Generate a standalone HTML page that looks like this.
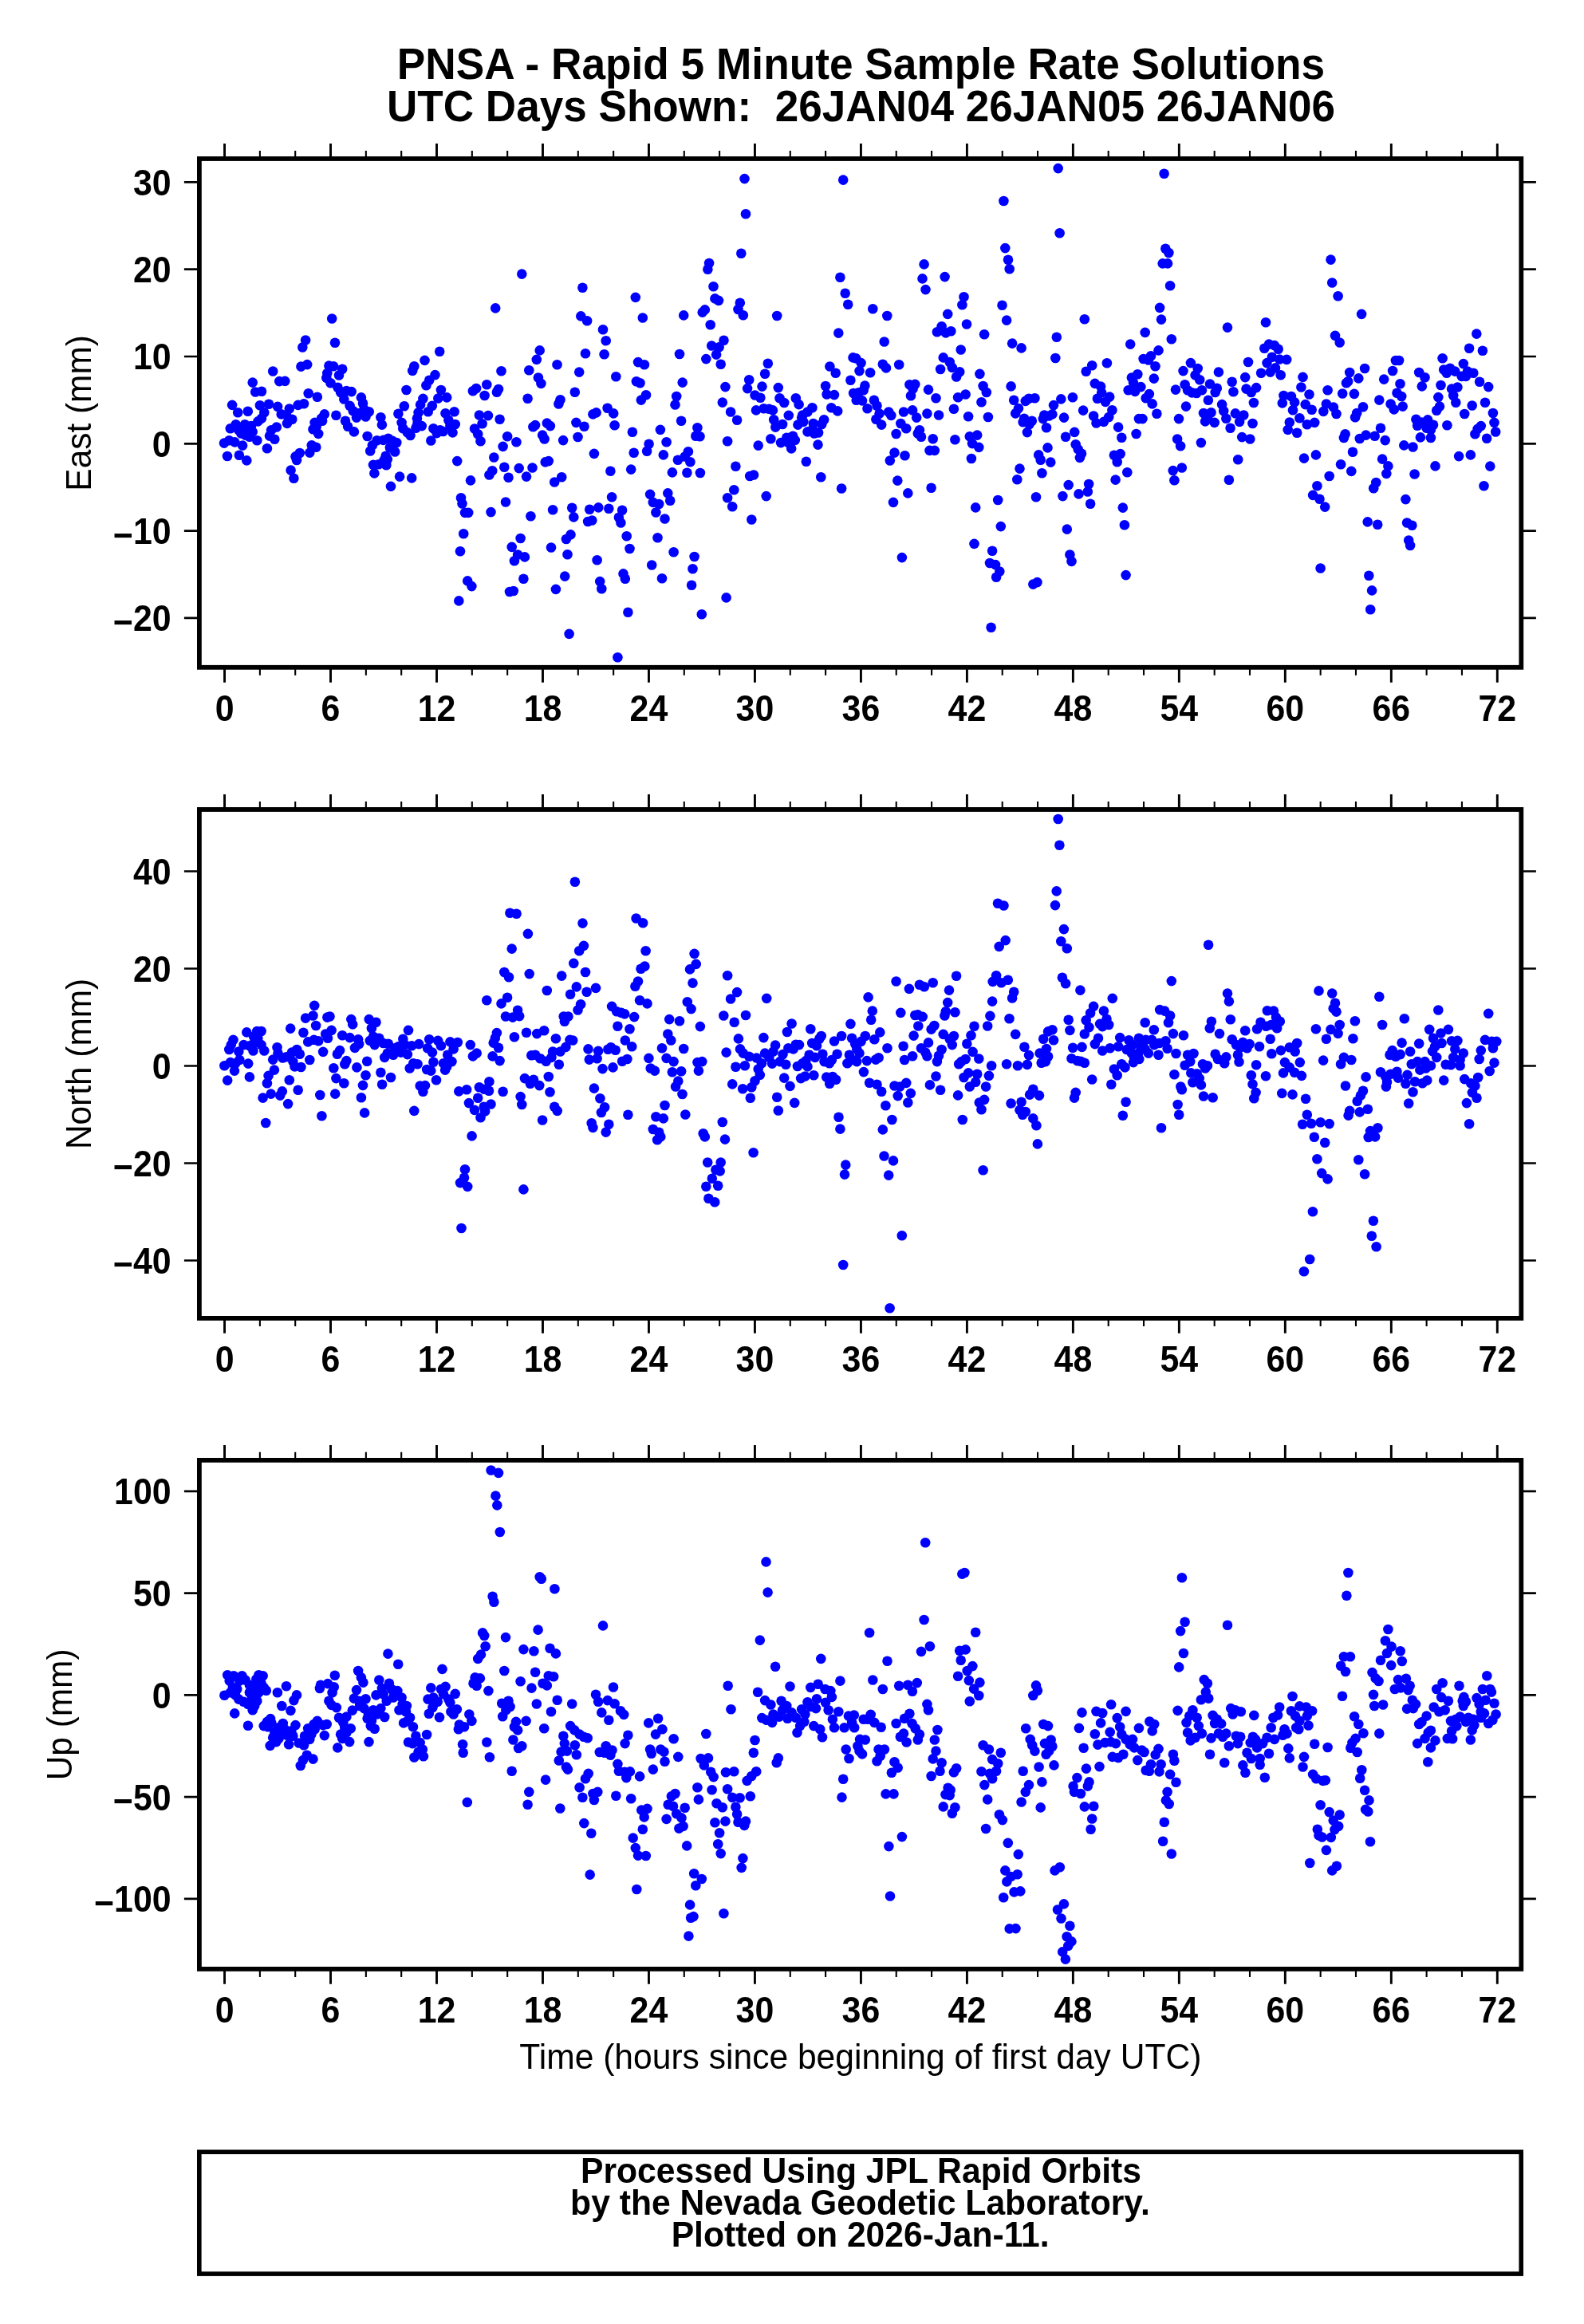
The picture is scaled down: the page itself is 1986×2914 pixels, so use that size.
<!DOCTYPE html>
<html lang="en"><head><meta charset="utf-8"><title>PNSA - Rapid 5 Minute Sample Rate Solutions</title>
<style>html,body{margin:0;padding:0;background:#fff}svg{display:block;will-change:transform}text{font-family:"Liberation Sans",Arial,Helvetica,sans-serif;fill:#000}.b{font-weight:700}.d{fill:#00f}</style></head><body>
<svg width="1986" height="2914" viewBox="0 0 1986 2914">
<rect width="1986" height="2914" fill="#fff"/>
<text class="b" transform="translate(1079.40 98.60) scale(1.0 1.045)" font-size="53.24" text-anchor="middle">PNSA - Rapid 5 Minute Sample Rate Solutions</text>
<text class="b" transform="translate(1079.50 152.40) scale(1.0 1.045)" font-size="53.1" text-anchor="middle" xml:space="preserve" style="white-space:pre">UTC Days Shown:  26JAN04 26JAN05 26JAN06</text>
<g id="panel1">
<g class="d">
<circle cx="281" cy="555.6" r="6.3"/><circle cx="287.3" cy="552.3" r="6.3"/><circle cx="294.4" cy="554.4" r="6.3"/><circle cx="304.1" cy="558.6" r="6.3"/><circle cx="285" cy="572" r="6.3"/><circle cx="299.9" cy="570.7" r="6.3"/><circle cx="309.3" cy="577.4" r="6.3"/><circle cx="288.8" cy="537.2" r="6.3"/><circle cx="295.7" cy="532.2" r="6.3"/><circle cx="302.4" cy="543.5" r="6.3"/><circle cx="307" cy="532.2" r="6.3"/><circle cx="310.8" cy="538.5" r="6.3"/><circle cx="316.7" cy="541.4" r="6.3"/><circle cx="312.9" cy="547.7" r="6.3"/><circle cx="322.3" cy="552.3" r="6.3"/><circle cx="291.1" cy="507.9" r="6.3"/><circle cx="298.2" cy="517.3" r="6.3"/><circle cx="310.8" cy="515.8" r="6.3"/><circle cx="316.7" cy="479.6" r="6.3"/><circle cx="320.2" cy="491.5" r="6.3"/><circle cx="328" cy="490.7" r="6.3"/><circle cx="325.9" cy="508.3" r="6.3"/><circle cx="331.3" cy="517.3" r="6.3"/><circle cx="328" cy="524.6" r="6.3"/><circle cx="323.4" cy="528.4" r="6.3"/><circle cx="337" cy="506.8" r="6.3"/><circle cx="342.2" cy="465.5" r="6.3"/><circle cx="350.2" cy="478.1" r="6.3"/><circle cx="357.3" cy="477.9" r="6.3"/><circle cx="348.1" cy="509.9" r="6.3"/><circle cx="352.7" cy="519.4" r="6.3"/><circle cx="362.8" cy="512.5" r="6.3"/><circle cx="359" cy="520.4" r="6.3"/><circle cx="366.3" cy="525.7" r="6.3"/><circle cx="360" cy="530.9" r="6.3"/><circle cx="346.8" cy="535.5" r="6.3"/><circle cx="340.1" cy="539.3" r="6.3"/><circle cx="338" cy="546.6" r="6.3"/><circle cx="344.3" cy="550.8" r="6.3"/><circle cx="334.9" cy="562.3" r="6.3"/><circle cx="373.7" cy="507.9" r="6.3"/><circle cx="381" cy="506.2" r="6.3"/><circle cx="377.4" cy="459.6" r="6.3"/><circle cx="385.2" cy="457.1" r="6.3"/><circle cx="379.3" cy="435.5" r="6.3"/><circle cx="383.1" cy="426.5" r="6.3"/><circle cx="386.7" cy="493.2" r="6.3"/><circle cx="397.8" cy="497.8" r="6.3"/><circle cx="416.2" cy="399.5" r="6.3"/><circle cx="420" cy="429.7" r="6.3"/><circle cx="412.4" cy="458.6" r="6.3"/><circle cx="418.1" cy="459.2" r="6.3"/><circle cx="429.2" cy="462.8" r="6.3"/><circle cx="425" cy="470.5" r="6.3"/><circle cx="410.3" cy="468" r="6.3"/><circle cx="409.3" cy="473.9" r="6.3"/><circle cx="414.5" cy="480.2" r="6.3"/><circle cx="423.5" cy="485.8" r="6.3"/><circle cx="427.1" cy="492.1" r="6.3"/><circle cx="434.4" cy="490" r="6.3"/><circle cx="440.7" cy="491.1" r="6.3"/><circle cx="431.3" cy="500.5" r="6.3"/><circle cx="438.6" cy="508.9" r="6.3"/><circle cx="442.8" cy="515.2" r="6.3"/><circle cx="447" cy="523.6" r="6.3"/><circle cx="452.9" cy="498.4" r="6.3"/><circle cx="455" cy="505.8" r="6.3"/><circle cx="456.5" cy="513.1" r="6.3"/><circle cx="462.7" cy="516.2" r="6.3"/><circle cx="458.5" cy="522.5" r="6.3"/><circle cx="406.8" cy="519.4" r="6.3"/><circle cx="403" cy="524.6" r="6.3"/><circle cx="394.6" cy="529.9" r="6.3"/><circle cx="392.5" cy="538.2" r="6.3"/><circle cx="399.2" cy="543.9" r="6.3"/><circle cx="390.8" cy="558.2" r="6.3"/><circle cx="396.3" cy="560.7" r="6.3"/><circle cx="388.3" cy="567.6" r="6.3"/><circle cx="375.8" cy="568" r="6.3"/><circle cx="370.5" cy="572.4" r="6.3"/><circle cx="372" cy="577" r="6.3"/><circle cx="364.6" cy="589.6" r="6.3"/><circle cx="368.4" cy="599.7" r="6.3"/><circle cx="421.4" cy="520.8" r="6.3"/><circle cx="433" cy="527.8" r="6.3"/><circle cx="436.1" cy="534.7" r="6.3"/><circle cx="443.9" cy="541.4" r="6.3"/><circle cx="460.6" cy="547" r="6.3"/><circle cx="477.4" cy="523.2" r="6.3"/><circle cx="478.9" cy="532.6" r="6.3"/><circle cx="466.9" cy="558.2" r="6.3"/><circle cx="464.2" cy="565.5" r="6.3"/><circle cx="472.6" cy="552.3" r="6.3"/><circle cx="480.6" cy="551.9" r="6.3"/><circle cx="492.1" cy="552.9" r="6.3"/><circle cx="497.3" cy="555" r="6.3"/><circle cx="488.9" cy="561.3" r="6.3"/><circle cx="495.2" cy="566.5" r="6.3"/><circle cx="483.7" cy="571.8" r="6.3"/><circle cx="485.8" cy="576" r="6.3"/><circle cx="468" cy="582.9" r="6.3"/><circle cx="474.7" cy="582.3" r="6.3"/><circle cx="484.3" cy="583.3" r="6.3"/><circle cx="469.4" cy="593.4" r="6.3"/><circle cx="490" cy="609.9" r="6.3"/><circle cx="501.1" cy="597.6" r="6.3"/><circle cx="516.2" cy="599.4" r="6.3"/><circle cx="499.4" cy="518.8" r="6.3"/><circle cx="506.8" cy="509.3" r="6.3"/><circle cx="503.6" cy="529.9" r="6.3"/><circle cx="505.3" cy="537.2" r="6.3"/><circle cx="510.9" cy="542.4" r="6.3"/><circle cx="514.5" cy="546" r="6.3"/><circle cx="509.5" cy="489" r="6.3"/><circle cx="517.2" cy="464.9" r="6.3"/><circle cx="519.3" cy="459.2" r="6.3"/><circle cx="532.5" cy="451.9" r="6.3"/><circle cx="551.2" cy="440.8" r="6.3"/><circle cx="545.5" cy="470.1" r="6.3"/><circle cx="538.2" cy="476.8" r="6.3"/><circle cx="534.4" cy="483.3" r="6.3"/><circle cx="530.4" cy="499.9" r="6.3"/><circle cx="527.1" cy="507.4" r="6.3"/><circle cx="524.6" cy="517.3" r="6.3"/><circle cx="522.9" cy="524.6" r="6.3"/><circle cx="528.8" cy="534.1" r="6.3"/><circle cx="521.4" cy="536.8" r="6.3"/><circle cx="541.8" cy="508.9" r="6.3"/><circle cx="536.7" cy="516.2" r="6.3"/><circle cx="552.9" cy="489" r="6.3"/><circle cx="549.3" cy="499.5" r="6.3"/><circle cx="560.2" cy="498.4" r="6.3"/><circle cx="558.5" cy="518.3" r="6.3"/><circle cx="569.6" cy="516.2" r="6.3"/><circle cx="562.3" cy="526.7" r="6.3"/><circle cx="570.7" cy="532" r="6.3"/><circle cx="567.5" cy="542.4" r="6.3"/><circle cx="543.4" cy="537.2" r="6.3"/><circle cx="547.6" cy="543.1" r="6.3"/><circle cx="555.6" cy="541" r="6.3"/><circle cx="540.3" cy="552.5" r="6.3"/><circle cx="573.2" cy="578.1" r="6.3"/><circle cx="578" cy="624.2" r="6.3"/><circle cx="579.5" cy="631.5" r="6.3"/><circle cx="581.2" cy="669.2" r="6.3"/><circle cx="577" cy="691.2" r="6.3"/><circle cx="299.3" cy="539.3" r="6.3"/><circle cx="315" cy="534.1" r="6.3"/><circle cx="307.6" cy="545.6" r="6.3"/><circle cx="486.8" cy="549.8" r="6.3"/><circle cx="481.6" cy="577" r="6.3"/><circle cx="449.1" cy="518.3" r="6.3"/><circle cx="404.1" cy="527.8" r="6.3"/><circle cx="396.7" cy="535.1" r="6.3"/><circle cx="523.5" cy="530.9" r="6.3"/><circle cx="564.4" cy="534.1" r="6.3"/><circle cx="551.8" cy="539.3" r="6.3"/><circle cx="654.3" cy="343.6" r="6.3"/><circle cx="621.2" cy="386.4" r="6.3"/><circle cx="730.4" cy="360.8" r="6.3"/><circle cx="796.8" cy="372.9" r="6.3"/><circle cx="889.1" cy="330" r="6.3"/><circle cx="887.4" cy="337.7" r="6.3"/><circle cx="894.5" cy="359.3" r="6.3"/><circle cx="896.4" cy="374.4" r="6.3"/><circle cx="901" cy="376.9" r="6.3"/><circle cx="883.8" cy="388.4" r="6.3"/><circle cx="880.7" cy="391.6" r="6.3"/><circle cx="857.2" cy="395.4" r="6.3"/><circle cx="805.8" cy="398.5" r="6.3"/><circle cx="728.3" cy="396.4" r="6.3"/><circle cx="736.1" cy="402.3" r="6.3"/><circle cx="756" cy="413.2" r="6.3"/><circle cx="759.7" cy="427.2" r="6.3"/><circle cx="890.7" cy="407.3" r="6.3"/><circle cx="907.5" cy="426.8" r="6.3"/><circle cx="892.2" cy="433.5" r="6.3"/><circle cx="901.6" cy="435.2" r="6.3"/><circle cx="898.1" cy="444.6" r="6.3"/><circle cx="885.3" cy="450.1" r="6.3"/><circle cx="903.7" cy="456.8" r="6.3"/><circle cx="852" cy="444" r="6.3"/><circle cx="757.6" cy="444.2" r="6.3"/><circle cx="734" cy="443.2" r="6.3"/><circle cx="676.7" cy="439.4" r="6.3"/><circle cx="672.8" cy="450.9" r="6.3"/><circle cx="698.5" cy="457.2" r="6.3"/><circle cx="663.3" cy="464.3" r="6.3"/><circle cx="628.5" cy="465.2" r="6.3"/><circle cx="726.2" cy="466.6" r="6.3"/><circle cx="674.9" cy="473.5" r="6.3"/><circle cx="678.4" cy="480.9" r="6.3"/><circle cx="772.3" cy="472.3" r="6.3"/><circle cx="800" cy="454.1" r="6.3"/><circle cx="807.9" cy="457.2" r="6.3"/><circle cx="797.9" cy="478.2" r="6.3"/><circle cx="802.5" cy="480.3" r="6.3"/><circle cx="855.7" cy="479.6" r="6.3"/><circle cx="909.4" cy="485.1" r="6.3"/><circle cx="810" cy="495.3" r="6.3"/><circle cx="803.8" cy="501.6" r="6.3"/><circle cx="848.2" cy="497" r="6.3"/><circle cx="846.5" cy="507.5" r="6.3"/><circle cx="905.8" cy="504.6" r="6.3"/><circle cx="720.8" cy="491.8" r="6.3"/><circle cx="702.5" cy="501.2" r="6.3"/><circle cx="700.4" cy="506.5" r="6.3"/><circle cx="661.6" cy="499.7" r="6.3"/><circle cx="610.3" cy="482.3" r="6.3"/><circle cx="597.1" cy="487" r="6.3"/><circle cx="592.9" cy="490.3" r="6.3"/><circle cx="607.6" cy="496" r="6.3"/><circle cx="625" cy="488" r="6.3"/><circle cx="622.9" cy="491.8" r="6.3"/><circle cx="600.9" cy="520.5" r="6.3"/><circle cx="612" cy="521.1" r="6.3"/><circle cx="626.6" cy="525.7" r="6.3"/><circle cx="604.6" cy="531.2" r="6.3"/><circle cx="595" cy="537.5" r="6.3"/><circle cx="599.2" cy="544.2" r="6.3"/><circle cx="602.5" cy="553.2" r="6.3"/><circle cx="636.1" cy="547.3" r="6.3"/><circle cx="647.4" cy="554.2" r="6.3"/><circle cx="630.6" cy="559.9" r="6.3"/><circle cx="619.3" cy="573.5" r="6.3"/><circle cx="632.3" cy="585.7" r="6.3"/><circle cx="617.2" cy="590.3" r="6.3"/><circle cx="613.4" cy="595.5" r="6.3"/><circle cx="637.5" cy="598.7" r="6.3"/><circle cx="650.7" cy="587.1" r="6.3"/><circle cx="660" cy="597.6" r="6.3"/><circle cx="667.5" cy="586.5" r="6.3"/><circle cx="590" cy="602.4" r="6.3"/><circle cx="671.1" cy="533.1" r="6.3"/><circle cx="668.4" cy="535.2" r="6.3"/><circle cx="685.8" cy="530.6" r="6.3"/><circle cx="689.9" cy="534.1" r="6.3"/><circle cx="680.1" cy="545.6" r="6.3"/><circle cx="682.6" cy="550.5" r="6.3"/><circle cx="706.1" cy="552.1" r="6.3"/><circle cx="724.5" cy="548" r="6.3"/><circle cx="722.4" cy="529.9" r="6.3"/><circle cx="732.5" cy="534.7" r="6.3"/><circle cx="743.4" cy="519.4" r="6.3"/><circle cx="747.6" cy="517.4" r="6.3"/><circle cx="761.6" cy="511.7" r="6.3"/><circle cx="769.2" cy="518.4" r="6.3"/><circle cx="770.6" cy="533.3" r="6.3"/><circle cx="792.9" cy="541.7" r="6.3"/><circle cx="827.9" cy="538.9" r="6.3"/><circle cx="854.1" cy="527.8" r="6.3"/><circle cx="874.4" cy="536.2" r="6.3"/><circle cx="872.3" cy="546.7" r="6.3"/><circle cx="877.5" cy="547.3" r="6.3"/><circle cx="912.1" cy="553.2" r="6.3"/><circle cx="835.6" cy="554.2" r="6.3"/><circle cx="813.6" cy="556.8" r="6.3"/><circle cx="811.1" cy="565.8" r="6.3"/><circle cx="794.7" cy="567.7" r="6.3"/><circle cx="831.8" cy="570.4" r="6.3"/><circle cx="862.9" cy="566.2" r="6.3"/><circle cx="858.7" cy="572.5" r="6.3"/><circle cx="849.9" cy="576.7" r="6.3"/><circle cx="865.4" cy="579.2" r="6.3"/><circle cx="842.9" cy="592.4" r="6.3"/><circle cx="861.4" cy="592.8" r="6.3"/><circle cx="877.9" cy="593" r="6.3"/><circle cx="791.2" cy="588.6" r="6.3"/><circle cx="765.4" cy="590.7" r="6.3"/><circle cx="744.9" cy="568.9" r="6.3"/><circle cx="687.8" cy="578.1" r="6.3"/><circle cx="683.7" cy="579.4" r="6.3"/><circle cx="704.2" cy="598.3" r="6.3"/><circle cx="695.2" cy="604.5" r="6.3"/><circle cx="583" cy="642.9" r="6.3"/><circle cx="587.2" cy="642.9" r="6.3"/><circle cx="586.2" cy="728.4" r="6.3"/><circle cx="591.4" cy="735.1" r="6.3"/><circle cx="615.5" cy="642.1" r="6.3"/><circle cx="634" cy="629.5" r="6.3"/><circle cx="665.4" cy="647.3" r="6.3"/><circle cx="693.1" cy="639.3" r="6.3"/><circle cx="717.2" cy="636.8" r="6.3"/><circle cx="719.3" cy="648.4" r="6.3"/><circle cx="739.2" cy="638.7" r="6.3"/><circle cx="750.3" cy="636.4" r="6.3"/><circle cx="763.3" cy="637.7" r="6.3"/><circle cx="767.1" cy="623.2" r="6.3"/><circle cx="737.1" cy="654" r="6.3"/><circle cx="742.3" cy="652.5" r="6.3"/><circle cx="780.1" cy="639.8" r="6.3"/><circle cx="775.9" cy="648.8" r="6.3"/><circle cx="778.4" cy="655.5" r="6.3"/><circle cx="815.1" cy="619.9" r="6.3"/><circle cx="818.8" cy="629.9" r="6.3"/><circle cx="826.2" cy="632" r="6.3"/><circle cx="822.4" cy="642.5" r="6.3"/><circle cx="837.3" cy="618.4" r="6.3"/><circle cx="840.2" cy="627.8" r="6.3"/><circle cx="833.5" cy="650.5" r="6.3"/><circle cx="912.1" cy="624.3" r="6.3"/><circle cx="652.6" cy="675" r="6.3"/><circle cx="641.7" cy="685.9" r="6.3"/><circle cx="649.1" cy="695.5" r="6.3"/><circle cx="657.9" cy="698.4" r="6.3"/><circle cx="644.9" cy="703.3" r="6.3"/><circle cx="656.4" cy="725.7" r="6.3"/><circle cx="639" cy="742" r="6.3"/><circle cx="643.8" cy="741" r="6.3"/><circle cx="691" cy="686.5" r="6.3"/><circle cx="709.9" cy="676" r="6.3"/><circle cx="715.5" cy="670.4" r="6.3"/><circle cx="711.5" cy="695.3" r="6.3"/><circle cx="708.2" cy="722.6" r="6.3"/><circle cx="696.9" cy="738.9" r="6.3"/><circle cx="748.6" cy="702.2" r="6.3"/><circle cx="752.2" cy="729.1" r="6.3"/><circle cx="754.3" cy="738.3" r="6.3"/><circle cx="785.7" cy="672.2" r="6.3"/><circle cx="789.5" cy="688" r="6.3"/><circle cx="781.5" cy="719.4" r="6.3"/><circle cx="783.8" cy="725.7" r="6.3"/><circle cx="824.5" cy="674.3" r="6.3"/><circle cx="817.2" cy="708.5" r="6.3"/><circle cx="830" cy="725.3" r="6.3"/><circle cx="844.6" cy="692.2" r="6.3"/><circle cx="870.6" cy="698" r="6.3"/><circle cx="868.5" cy="713.3" r="6.3"/><circle cx="867.1" cy="733.7" r="6.3"/><circle cx="910.6" cy="749.4" r="6.3"/><circle cx="879.8" cy="770.3" r="6.3"/><circle cx="787.4" cy="767.8" r="6.3"/><circle cx="713.6" cy="794.9" r="6.3"/><circle cx="774.4" cy="824.2" r="6.3"/><circle cx="933.5" cy="224.1" r="6.3"/><circle cx="935" cy="268.3" r="6.3"/><circle cx="929.3" cy="317.8" r="6.3"/><circle cx="1057.2" cy="225.6" r="6.3"/><circle cx="927.8" cy="379.8" r="6.3"/><circle cx="925.5" cy="388" r="6.3"/><circle cx="931.8" cy="395.3" r="6.3"/><circle cx="974.2" cy="396" r="6.3"/><circle cx="1053.4" cy="347.8" r="6.3"/><circle cx="1059.7" cy="367.7" r="6.3"/><circle cx="1063.2" cy="381.7" r="6.3"/><circle cx="1051.3" cy="417.6" r="6.3"/><circle cx="1094.3" cy="387.2" r="6.3"/><circle cx="1112.3" cy="396" r="6.3"/><circle cx="1108.7" cy="428.5" r="6.3"/><circle cx="1158.6" cy="331.4" r="6.3"/><circle cx="1156.5" cy="349.4" r="6.3"/><circle cx="1160.5" cy="363.1" r="6.3"/><circle cx="1184.6" cy="347.1" r="6.3"/><circle cx="1208.5" cy="372.3" r="6.3"/><circle cx="1206.4" cy="382.3" r="6.3"/><circle cx="1188.2" cy="393.9" r="6.3"/><circle cx="1212" cy="406.5" r="6.3"/><circle cx="1180.6" cy="409.2" r="6.3"/><circle cx="1174.9" cy="416.3" r="6.3"/><circle cx="1185.8" cy="417.4" r="6.3"/><circle cx="1192.3" cy="415.3" r="6.3"/><circle cx="1234.1" cy="419.2" r="6.3"/><circle cx="1204.7" cy="438.5" r="6.3"/><circle cx="1182.7" cy="448.4" r="6.3"/><circle cx="1190.7" cy="454" r="6.3"/><circle cx="1193.8" cy="460.9" r="6.3"/><circle cx="1179.1" cy="463" r="6.3"/><circle cx="1203.2" cy="466.2" r="6.3"/><circle cx="1199.1" cy="472.5" r="6.3"/><circle cx="1228.4" cy="468.9" r="6.3"/><circle cx="1232.6" cy="484" r="6.3"/><circle cx="1236.8" cy="492" r="6.3"/><circle cx="1230.5" cy="504.3" r="6.3"/><circle cx="1210.6" cy="494.5" r="6.3"/><circle cx="1201.1" cy="498.3" r="6.3"/><circle cx="1195.9" cy="512.7" r="6.3"/><circle cx="1173.5" cy="499.3" r="6.3"/><circle cx="1164" cy="488.6" r="6.3"/><circle cx="1140.4" cy="482.3" r="6.3"/><circle cx="1147.3" cy="481.9" r="6.3"/><circle cx="1144.6" cy="487.6" r="6.3"/><circle cx="1142" cy="496.2" r="6.3"/><circle cx="1127.2" cy="457.2" r="6.3"/><circle cx="1106.8" cy="456.8" r="6.3"/><circle cx="1111" cy="461.4" r="6.3"/><circle cx="1069.5" cy="448.4" r="6.3"/><circle cx="1073.3" cy="449.4" r="6.3"/><circle cx="1079.6" cy="455.1" r="6.3"/><circle cx="1077.5" cy="465.1" r="6.3"/><circle cx="1091.1" cy="467.2" r="6.3"/><circle cx="1066.4" cy="476.7" r="6.3"/><circle cx="1084.4" cy="483.6" r="6.3"/><circle cx="1082.7" cy="489.2" r="6.3"/><circle cx="1070.1" cy="493" r="6.3"/><circle cx="1076.4" cy="492.4" r="6.3"/><circle cx="1073.7" cy="501.8" r="6.3"/><circle cx="1081" cy="502.4" r="6.3"/><circle cx="1095.9" cy="501.8" r="6.3"/><circle cx="1099.5" cy="508.7" r="6.3"/><circle cx="1087.5" cy="512.3" r="6.3"/><circle cx="1040.4" cy="459.5" r="6.3"/><circle cx="1047.7" cy="467.7" r="6.3"/><circle cx="1035.1" cy="484" r="6.3"/><circle cx="1036.6" cy="494.5" r="6.3"/><circle cx="1046" cy="495.1" r="6.3"/><circle cx="1042.3" cy="511.2" r="6.3"/><circle cx="1050.2" cy="515.4" r="6.3"/><circle cx="962.8" cy="455.7" r="6.3"/><circle cx="959.1" cy="468.7" r="6.3"/><circle cx="939.2" cy="476.2" r="6.3"/><circle cx="937.1" cy="487.1" r="6.3"/><circle cx="955.5" cy="484.6" r="6.3"/><circle cx="946.5" cy="495.5" r="6.3"/><circle cx="953.4" cy="498.7" r="6.3"/><circle cx="975.8" cy="486.1" r="6.3"/><circle cx="977.5" cy="499.3" r="6.3"/><circle cx="983.2" cy="505" r="6.3"/><circle cx="997.8" cy="499.3" r="6.3"/><circle cx="1001.6" cy="507.1" r="6.3"/><circle cx="1018.4" cy="511.2" r="6.3"/><circle cx="1012.5" cy="516.5" r="6.3"/><circle cx="948" cy="514.4" r="6.3"/><circle cx="957.6" cy="512.3" r="6.3"/><circle cx="964.3" cy="512.7" r="6.3"/><circle cx="968.9" cy="514.4" r="6.3"/><circle cx="916.1" cy="516.5" r="6.3"/><circle cx="1114.2" cy="516.5" r="6.3"/><circle cx="1102.6" cy="518.6" r="6.3"/><circle cx="1133" cy="516.5" r="6.3"/><circle cx="1144.1" cy="514.4" r="6.3"/><circle cx="1162.4" cy="518.6" r="6.3"/><circle cx="924.1" cy="526.8" r="6.3"/><circle cx="988.8" cy="520.9" r="6.3"/><circle cx="1006.2" cy="520.5" r="6.3"/><circle cx="1177" cy="520.5" r="6.3"/><circle cx="1214.1" cy="522.2" r="6.3"/><circle cx="1238.9" cy="523" r="6.3"/><circle cx="1149.2" cy="523.6" r="6.3"/><circle cx="1117.3" cy="520.9" r="6.3"/><circle cx="1098.4" cy="525.7" r="6.3"/><circle cx="1105.2" cy="532.6" r="6.3"/><circle cx="1129.3" cy="531" r="6.3"/><circle cx="1136.2" cy="537.2" r="6.3"/><circle cx="1123.6" cy="544" r="6.3"/><circle cx="1152.9" cy="539.3" r="6.3"/><circle cx="1150.8" cy="543.5" r="6.3"/><circle cx="1155" cy="547.7" r="6.3"/><circle cx="1169.7" cy="550.2" r="6.3"/><circle cx="1165.5" cy="564.9" r="6.3"/><circle cx="1171.8" cy="564.9" r="6.3"/><circle cx="1197.4" cy="551.3" r="6.3"/><circle cx="1215.8" cy="547.3" r="6.3"/><circle cx="1225.2" cy="545.6" r="6.3"/><circle cx="1219" cy="556.1" r="6.3"/><circle cx="1227.3" cy="560.9" r="6.3"/><circle cx="1217.9" cy="575" r="6.3"/><circle cx="1121.5" cy="567.6" r="6.3"/><circle cx="1134.5" cy="571.2" r="6.3"/><circle cx="1115.8" cy="577.5" r="6.3"/><circle cx="1125.3" cy="602.6" r="6.3"/><circle cx="1138.3" cy="618.4" r="6.3"/><circle cx="1120" cy="629.9" r="6.3"/><circle cx="1167.6" cy="611.7" r="6.3"/><circle cx="1223.2" cy="636.4" r="6.3"/><circle cx="1221.5" cy="681.9" r="6.3"/><circle cx="1244.1" cy="690.7" r="6.3"/><circle cx="1241" cy="706" r="6.3"/><circle cx="1242.6" cy="786.7" r="6.3"/><circle cx="1130.9" cy="699.1" r="6.3"/><circle cx="918.2" cy="635.3" r="6.3"/><circle cx="920.3" cy="614.2" r="6.3"/><circle cx="922.4" cy="584.8" r="6.3"/><circle cx="970.2" cy="526.3" r="6.3"/><circle cx="972.3" cy="535.6" r="6.3"/><circle cx="981.1" cy="532" r="6.3"/><circle cx="1000.4" cy="532.6" r="6.3"/><circle cx="1007.3" cy="528.9" r="6.3"/><circle cx="1005.2" cy="523.6" r="6.3"/><circle cx="1019.8" cy="531" r="6.3"/><circle cx="1033.1" cy="526.3" r="6.3"/><circle cx="1030.3" cy="532" r="6.3"/><circle cx="1012.5" cy="541.4" r="6.3"/><circle cx="1018.8" cy="538.3" r="6.3"/><circle cx="1026.1" cy="542.5" r="6.3"/><circle cx="1020.9" cy="543.5" r="6.3"/><circle cx="966.4" cy="550.2" r="6.3"/><circle cx="950.7" cy="558.6" r="6.3"/><circle cx="979" cy="555.1" r="6.3"/><circle cx="986.3" cy="548.8" r="6.3"/><circle cx="994.1" cy="546.7" r="6.3"/><circle cx="996.8" cy="551.9" r="6.3"/><circle cx="988.4" cy="555.1" r="6.3"/><circle cx="992.2" cy="562.4" r="6.3"/><circle cx="1025.5" cy="557.6" r="6.3"/><circle cx="1010.8" cy="578.7" r="6.3"/><circle cx="1029.3" cy="598.2" r="6.3"/><circle cx="1055.1" cy="612.5" r="6.3"/><circle cx="940.2" cy="597" r="6.3"/><circle cx="945" cy="595.5" r="6.3"/><circle cx="960.7" cy="622.1" r="6.3"/><circle cx="942.3" cy="651.5" r="6.3"/><circle cx="1326.7" cy="211.1" r="6.3"/><circle cx="1459.6" cy="217.8" r="6.3"/><circle cx="1258.4" cy="252" r="6.3"/><circle cx="1328.6" cy="292.2" r="6.3"/><circle cx="1260.3" cy="311.1" r="6.3"/><circle cx="1264" cy="325.8" r="6.3"/><circle cx="1265.7" cy="337.3" r="6.3"/><circle cx="1461.3" cy="311.7" r="6.3"/><circle cx="1465.4" cy="317" r="6.3"/><circle cx="1457.7" cy="330.4" r="6.3"/><circle cx="1464" cy="330.4" r="6.3"/><circle cx="1467.1" cy="358.2" r="6.3"/><circle cx="1256.5" cy="382.8" r="6.3"/><circle cx="1262.1" cy="401.6" r="6.3"/><circle cx="1359.8" cy="400.2" r="6.3"/><circle cx="1454.1" cy="385.9" r="6.3"/><circle cx="1456" cy="400.6" r="6.3"/><circle cx="1539" cy="410.6" r="6.3"/><circle cx="1435.7" cy="416.9" r="6.3"/><circle cx="1468.8" cy="425.3" r="6.3"/><circle cx="1417.2" cy="431.6" r="6.3"/><circle cx="1324.8" cy="422.8" r="6.3"/><circle cx="1269.1" cy="430.6" r="6.3"/><circle cx="1280.6" cy="436.4" r="6.3"/><circle cx="1323.3" cy="449" r="6.3"/><circle cx="1452.5" cy="439.4" r="6.3"/><circle cx="1443" cy="446.3" r="6.3"/><circle cx="1433.6" cy="450" r="6.3"/><circle cx="1439.9" cy="451.5" r="6.3"/><circle cx="1448.5" cy="459.3" r="6.3"/><circle cx="1387.9" cy="455.3" r="6.3"/><circle cx="1369.2" cy="458.2" r="6.3"/><circle cx="1361.7" cy="465.8" r="6.3"/><circle cx="1492.9" cy="455.1" r="6.3"/><circle cx="1501.7" cy="462" r="6.3"/><circle cx="1483.5" cy="465.1" r="6.3"/><circle cx="1498.6" cy="470.4" r="6.3"/><circle cx="1504.2" cy="476.2" r="6.3"/><circle cx="1527.9" cy="466.6" r="6.3"/><circle cx="1565" cy="454" r="6.3"/><circle cx="1561.2" cy="473.1" r="6.3"/><circle cx="1426.3" cy="469.3" r="6.3"/><circle cx="1418.9" cy="473.5" r="6.3"/><circle cx="1421" cy="479.8" r="6.3"/><circle cx="1446.8" cy="474.6" r="6.3"/><circle cx="1430.4" cy="485.1" r="6.3"/><circle cx="1414.7" cy="489.2" r="6.3"/><circle cx="1423.1" cy="490.9" r="6.3"/><circle cx="1440.9" cy="494.1" r="6.3"/><circle cx="1436.7" cy="499.3" r="6.3"/><circle cx="1444.7" cy="506.4" r="6.3"/><circle cx="1372.8" cy="480.9" r="6.3"/><circle cx="1380.1" cy="484.6" r="6.3"/><circle cx="1381.2" cy="492.4" r="6.3"/><circle cx="1375.9" cy="499.7" r="6.3"/><circle cx="1391.2" cy="497.6" r="6.3"/><circle cx="1386" cy="503.9" r="6.3"/><circle cx="1267.6" cy="484.4" r="6.3"/><circle cx="1271.2" cy="501.8" r="6.3"/><circle cx="1290" cy="499.7" r="6.3"/><circle cx="1285.8" cy="502.9" r="6.3"/><circle cx="1297.4" cy="499.3" r="6.3"/><circle cx="1321" cy="508.1" r="6.3"/><circle cx="1330.3" cy="500.4" r="6.3"/><circle cx="1344.9" cy="498.3" r="6.3"/><circle cx="1474" cy="488.6" r="6.3"/><circle cx="1485.6" cy="482.3" r="6.3"/><circle cx="1489.1" cy="489.2" r="6.3"/><circle cx="1494.4" cy="492.4" r="6.3"/><circle cx="1500.2" cy="493" r="6.3"/><circle cx="1506.9" cy="489.2" r="6.3"/><circle cx="1517" cy="481.5" r="6.3"/><circle cx="1525.8" cy="486.7" r="6.3"/><circle cx="1523.7" cy="492" r="6.3"/><circle cx="1514.9" cy="501.8" r="6.3"/><circle cx="1487" cy="509.6" r="6.3"/><circle cx="1544.7" cy="478.8" r="6.3"/><circle cx="1546.4" cy="491.3" r="6.3"/><circle cx="1562.5" cy="487.6" r="6.3"/><circle cx="1568.8" cy="492" r="6.3"/><circle cx="1575.1" cy="486.1" r="6.3"/><circle cx="1571.9" cy="505" r="6.3"/><circle cx="1532.1" cy="507.1" r="6.3"/><circle cx="1273.2" cy="518.4" r="6.3"/><circle cx="1277" cy="512.1" r="6.3"/><circle cx="1284.1" cy="524.7" r="6.3"/><circle cx="1282.7" cy="529.3" r="6.3"/><circle cx="1293.8" cy="527.8" r="6.3"/><circle cx="1290.6" cy="532" r="6.3"/><circle cx="1287.9" cy="542.1" r="6.3"/><circle cx="1309.3" cy="520.5" r="6.3"/><circle cx="1307.8" cy="525.1" r="6.3"/><circle cx="1319.4" cy="519.4" r="6.3"/><circle cx="1315.2" cy="521.5" r="6.3"/><circle cx="1312" cy="536.2" r="6.3"/><circle cx="1334" cy="523.6" r="6.3"/><circle cx="1358.1" cy="514.6" r="6.3"/><circle cx="1371.1" cy="521.5" r="6.3"/><circle cx="1374.5" cy="530.5" r="6.3"/><circle cx="1383.9" cy="528.9" r="6.3"/><circle cx="1390.2" cy="523" r="6.3"/><circle cx="1394.4" cy="514.2" r="6.3"/><circle cx="1402.1" cy="535.6" r="6.3"/><circle cx="1406.3" cy="548.8" r="6.3"/><circle cx="1424.6" cy="544" r="6.3"/><circle cx="1427.9" cy="525.1" r="6.3"/><circle cx="1432.5" cy="525.1" r="6.3"/><circle cx="1450.4" cy="518.8" r="6.3"/><circle cx="1478" cy="525.1" r="6.3"/><circle cx="1509" cy="518" r="6.3"/><circle cx="1518.5" cy="517.3" r="6.3"/><circle cx="1514.3" cy="525.1" r="6.3"/><circle cx="1511.1" cy="528.4" r="6.3"/><circle cx="1522.7" cy="529.9" r="6.3"/><circle cx="1534.2" cy="515.2" r="6.3"/><circle cx="1537.3" cy="524.7" r="6.3"/><circle cx="1548.9" cy="518.4" r="6.3"/><circle cx="1559.3" cy="520.5" r="6.3"/><circle cx="1554.1" cy="528.9" r="6.3"/><circle cx="1542.6" cy="536.8" r="6.3"/><circle cx="1570.5" cy="531" r="6.3"/><circle cx="1557.2" cy="548.1" r="6.3"/><circle cx="1567.3" cy="550.5" r="6.3"/><circle cx="1505.9" cy="555.1" r="6.3"/><circle cx="1476.1" cy="550.5" r="6.3"/><circle cx="1480.1" cy="559.3" r="6.3"/><circle cx="1347.2" cy="541.9" r="6.3"/><circle cx="1336.1" cy="547.7" r="6.3"/><circle cx="1348.7" cy="557.2" r="6.3"/><circle cx="1351.8" cy="563.4" r="6.3"/><circle cx="1356" cy="568.7" r="6.3"/><circle cx="1353.9" cy="573.9" r="6.3"/><circle cx="1313.5" cy="561.4" r="6.3"/><circle cx="1302.2" cy="570.4" r="6.3"/><circle cx="1304.7" cy="576.7" r="6.3"/><circle cx="1317.3" cy="579.6" r="6.3"/><circle cx="1306.4" cy="593.2" r="6.3"/><circle cx="1278.5" cy="587.6" r="6.3"/><circle cx="1275.3" cy="601.2" r="6.3"/><circle cx="1339.7" cy="608.1" r="6.3"/><circle cx="1365.1" cy="607" r="6.3"/><circle cx="1363.8" cy="616.5" r="6.3"/><circle cx="1352.5" cy="619.4" r="6.3"/><circle cx="1332.4" cy="622.1" r="6.3"/><circle cx="1299" cy="623.2" r="6.3"/><circle cx="1367.1" cy="631.8" r="6.3"/><circle cx="1396.9" cy="570.8" r="6.3"/><circle cx="1404.7" cy="569.1" r="6.3"/><circle cx="1400.7" cy="579.2" r="6.3"/><circle cx="1413.3" cy="592.2" r="6.3"/><circle cx="1398.6" cy="601.6" r="6.3"/><circle cx="1407.8" cy="636.6" r="6.3"/><circle cx="1409.9" cy="658.2" r="6.3"/><circle cx="1411.6" cy="721.1" r="6.3"/><circle cx="1470.7" cy="590.1" r="6.3"/><circle cx="1481.8" cy="586.5" r="6.3"/><circle cx="1472.4" cy="602.2" r="6.3"/><circle cx="1552.2" cy="576.2" r="6.3"/><circle cx="1540.9" cy="601.8" r="6.3"/><circle cx="1337.8" cy="663.6" r="6.3"/><circle cx="1341.4" cy="695.5" r="6.3"/><circle cx="1343.5" cy="703.9" r="6.3"/><circle cx="1300.5" cy="730.1" r="6.3"/><circle cx="1295.3" cy="732.6" r="6.3"/><circle cx="1251.2" cy="627" r="6.3"/><circle cx="1254.8" cy="660.1" r="6.3"/><circle cx="1248.1" cy="708.1" r="6.3"/><circle cx="1253.3" cy="716.5" r="6.3"/><circle cx="1249.1" cy="723.8" r="6.3"/><circle cx="1668.5" cy="325.6" r="6.3"/><circle cx="1670.2" cy="354.5" r="6.3"/><circle cx="1677.6" cy="371.3" r="6.3"/><circle cx="1707.1" cy="393.9" r="6.3"/><circle cx="1587" cy="404.2" r="6.3"/><circle cx="1674" cy="420.9" r="6.3"/><circle cx="1679.7" cy="429.5" r="6.3"/><circle cx="1851.3" cy="418.6" r="6.3"/><circle cx="1842.1" cy="436.7" r="6.3"/><circle cx="1858.9" cy="439.8" r="6.3"/><circle cx="1808.6" cy="449.2" r="6.3"/><circle cx="1585.3" cy="436.7" r="6.3"/><circle cx="1591" cy="431.6" r="6.3"/><circle cx="1597.9" cy="433.1" r="6.3"/><circle cx="1602.7" cy="437.7" r="6.3"/><circle cx="1594.8" cy="447.8" r="6.3"/><circle cx="1604.2" cy="450.5" r="6.3"/><circle cx="1613.2" cy="450.9" r="6.3"/><circle cx="1588.5" cy="455.1" r="6.3"/><circle cx="1599" cy="461.4" r="6.3"/><circle cx="1592.7" cy="466.6" r="6.3"/><circle cx="1581.1" cy="467.7" r="6.3"/><circle cx="1605.7" cy="470.2" r="6.3"/><circle cx="1633.5" cy="472.9" r="6.3"/><circle cx="1631.4" cy="485.5" r="6.3"/><circle cx="1641.5" cy="494.5" r="6.3"/><circle cx="1609.4" cy="496" r="6.3"/><circle cx="1618.9" cy="497" r="6.3"/><circle cx="1607.8" cy="505.4" r="6.3"/><circle cx="1623.1" cy="504.4" r="6.3"/><circle cx="1636.7" cy="507.1" r="6.3"/><circle cx="1621" cy="514.2" r="6.3"/><circle cx="1644.7" cy="513.8" r="6.3"/><circle cx="1629.4" cy="524.3" r="6.3"/><circle cx="1616.8" cy="529.5" r="6.3"/><circle cx="1638.8" cy="532.2" r="6.3"/><circle cx="1648.2" cy="529.9" r="6.3"/><circle cx="1614.7" cy="538.9" r="6.3"/><circle cx="1626.2" cy="542.7" r="6.3"/><circle cx="1664.6" cy="489.3" r="6.3"/><circle cx="1662.9" cy="506.5" r="6.3"/><circle cx="1659.3" cy="515.9" r="6.3"/><circle cx="1671.9" cy="510.6" r="6.3"/><circle cx="1675.5" cy="519" r="6.3"/><circle cx="1683.2" cy="493.5" r="6.3"/><circle cx="1697.9" cy="493.9" r="6.3"/><circle cx="1692.2" cy="467" r="6.3"/><circle cx="1690.1" cy="478.2" r="6.3"/><circle cx="1688" cy="480.3" r="6.3"/><circle cx="1703.3" cy="474.4" r="6.3"/><circle cx="1711.1" cy="462" r="6.3"/><circle cx="1709" cy="510.2" r="6.3"/><circle cx="1701.2" cy="518" r="6.3"/><circle cx="1699.1" cy="523.2" r="6.3"/><circle cx="1686.6" cy="544.2" r="6.3"/><circle cx="1684.9" cy="549" r="6.3"/><circle cx="1704.8" cy="550" r="6.3"/><circle cx="1712.6" cy="545.6" r="6.3"/><circle cx="1723.7" cy="546.7" r="6.3"/><circle cx="1731" cy="536.8" r="6.3"/><circle cx="1736.7" cy="552.1" r="6.3"/><circle cx="1696" cy="566.8" r="6.3"/><circle cx="1681.1" cy="582.3" r="6.3"/><circle cx="1694.3" cy="590.9" r="6.3"/><circle cx="1666.7" cy="597" r="6.3"/><circle cx="1651.4" cy="609.2" r="6.3"/><circle cx="1649.9" cy="570.4" r="6.3"/><circle cx="1635" cy="574.6" r="6.3"/><circle cx="1733.1" cy="575.6" r="6.3"/><circle cx="1740.4" cy="584.4" r="6.3"/><circle cx="1738.3" cy="593.9" r="6.3"/><circle cx="1725.3" cy="605" r="6.3"/><circle cx="1722.2" cy="612.3" r="6.3"/><circle cx="1773.6" cy="594.5" r="6.3"/><circle cx="1799.5" cy="584.4" r="6.3"/><circle cx="1760.3" cy="558.4" r="6.3"/><circle cx="1771.5" cy="560.5" r="6.3"/><circle cx="1829.1" cy="572.1" r="6.3"/><circle cx="1843.8" cy="570.4" r="6.3"/><circle cx="1868.3" cy="584.6" r="6.3"/><circle cx="1860.5" cy="609.2" r="6.3"/><circle cx="1735.2" cy="475.6" r="6.3"/><circle cx="1746.1" cy="465" r="6.3"/><circle cx="1749.9" cy="452" r="6.3"/><circle cx="1754.1" cy="452" r="6.3"/><circle cx="1755.5" cy="481.3" r="6.3"/><circle cx="1751.5" cy="492.8" r="6.3"/><circle cx="1757.2" cy="497" r="6.3"/><circle cx="1729.3" cy="501.6" r="6.3"/><circle cx="1743.6" cy="506.5" r="6.3"/><circle cx="1747.8" cy="513.4" r="6.3"/><circle cx="1758.7" cy="509.6" r="6.3"/><circle cx="1779.2" cy="467" r="6.3"/><circle cx="1786.5" cy="473.3" r="6.3"/><circle cx="1782.8" cy="484.4" r="6.3"/><circle cx="1775.4" cy="525.7" r="6.3"/><circle cx="1790.1" cy="526.4" r="6.3"/><circle cx="1782.4" cy="529.5" r="6.3"/><circle cx="1777.1" cy="533.7" r="6.3"/><circle cx="1797" cy="532.7" r="6.3"/><circle cx="1788.6" cy="536.8" r="6.3"/><circle cx="1793.9" cy="538.9" r="6.3"/><circle cx="1780.9" cy="548.4" r="6.3"/><circle cx="1793.9" cy="549" r="6.3"/><circle cx="1814.4" cy="533.3" r="6.3"/><circle cx="1806.5" cy="483" r="6.3"/><circle cx="1803.3" cy="498.1" r="6.3"/><circle cx="1805" cy="509.6" r="6.3"/><circle cx="1801.2" cy="514.8" r="6.3"/><circle cx="1810.2" cy="463.5" r="6.3"/><circle cx="1818" cy="461.8" r="6.3"/><circle cx="1813.8" cy="467.7" r="6.3"/><circle cx="1824.3" cy="465.6" r="6.3"/><circle cx="1834.8" cy="456.1" r="6.3"/><circle cx="1840" cy="465.6" r="6.3"/><circle cx="1832.7" cy="471.9" r="6.3"/><circle cx="1837.9" cy="471.9" r="6.3"/><circle cx="1847.3" cy="467.7" r="6.3"/><circle cx="1855.1" cy="478.8" r="6.3"/><circle cx="1866.2" cy="485.1" r="6.3"/><circle cx="1827.4" cy="485.5" r="6.3"/><circle cx="1820.1" cy="487.6" r="6.3"/><circle cx="1822.2" cy="496" r="6.3"/><circle cx="1825.3" cy="504.8" r="6.3"/><circle cx="1845.7" cy="508.5" r="6.3"/><circle cx="1836.2" cy="519" r="6.3"/><circle cx="1862" cy="504.8" r="6.3"/><circle cx="1871.9" cy="518" r="6.3"/><circle cx="1873.5" cy="529.9" r="6.3"/><circle cx="1875.2" cy="541.5" r="6.3"/><circle cx="1864.1" cy="549.8" r="6.3"/><circle cx="1856.8" cy="534.1" r="6.3"/><circle cx="1852.6" cy="537.9" r="6.3"/><circle cx="1849.4" cy="544.2" r="6.3"/><circle cx="1646.1" cy="620.9" r="6.3"/><circle cx="1654.5" cy="625.7" r="6.3"/><circle cx="1661.2" cy="635.6" r="6.3"/><circle cx="1762.4" cy="626.1" r="6.3"/><circle cx="1714.7" cy="654.4" r="6.3"/><circle cx="1727.2" cy="657.8" r="6.3"/><circle cx="1764.1" cy="655.5" r="6.3"/><circle cx="1770.4" cy="658.8" r="6.3"/><circle cx="1766.2" cy="677.5" r="6.3"/><circle cx="1768.1" cy="684" r="6.3"/><circle cx="1655.6" cy="712.5" r="6.3"/><circle cx="1716.3" cy="721.7" r="6.3"/><circle cx="1720.1" cy="740.4" r="6.3"/><circle cx="1718.2" cy="764.3" r="6.3"/><circle cx="575.3" cy="753.4" r="6.3"/>
</g>
<path d="M281.55 199.0V180.1M281.55 836.8V855.7M414.53 199.0V180.1M414.53 836.8V855.7M547.51 199.0V180.1M547.51 836.8V855.7M680.48 199.0V180.1M680.48 836.8V855.7M813.46 199.0V180.1M813.46 836.8V855.7M946.44 199.0V180.1M946.44 836.8V855.7M1079.42 199.0V180.1M1079.42 836.8V855.7M1212.40 199.0V180.1M1212.40 836.8V855.7M1345.37 199.0V180.1M1345.37 836.8V855.7M1478.35 199.0V180.1M1478.35 836.8V855.7M1611.33 199.0V180.1M1611.33 836.8V855.7M1744.31 199.0V180.1M1744.31 836.8V855.7M1877.29 199.0V180.1M1877.29 836.8V855.7" stroke="#000" stroke-width="2.9" fill="none" stroke-linecap="butt"/>
<path d="M325.88 199.0V188.95M325.88 836.8V846.85M370.20 199.0V188.95M370.20 836.8V846.85M458.85 199.0V188.95M458.85 836.8V846.85M503.18 199.0V188.95M503.18 836.8V846.85M591.83 199.0V188.95M591.83 836.8V846.85M636.16 199.0V188.95M636.16 836.8V846.85M724.81 199.0V188.95M724.81 836.8V846.85M769.14 199.0V188.95M769.14 836.8V846.85M857.79 199.0V188.95M857.79 836.8V846.85M902.11 199.0V188.95M902.11 836.8V846.85M990.77 199.0V188.95M990.77 836.8V846.85M1035.09 199.0V188.95M1035.09 836.8V846.85M1123.74 199.0V188.95M1123.74 836.8V846.85M1168.07 199.0V188.95M1168.07 836.8V846.85M1256.72 199.0V188.95M1256.72 836.8V846.85M1301.05 199.0V188.95M1301.05 836.8V846.85M1389.70 199.0V188.95M1389.70 836.8V846.85M1434.03 199.0V188.95M1434.03 836.8V846.85M1522.68 199.0V188.95M1522.68 836.8V846.85M1567.00 199.0V188.95M1567.00 836.8V846.85M1655.66 199.0V188.95M1655.66 836.8V846.85M1699.98 199.0V188.95M1699.98 836.8V846.85M1788.63 199.0V188.95M1788.63 836.8V846.85M1832.96 199.0V188.95M1832.96 836.8V846.85" stroke="#000" stroke-width="2.1" fill="none"/>
<path d="M249.9 228.40H230.9M1907.3 228.40H1925.9M249.9 337.70H230.9M1907.3 337.70H1925.9M249.9 447.00H230.9M1907.3 447.00H1925.9M249.9 556.30H230.9M1907.3 556.30H1925.9M249.9 665.60H230.9M1907.3 665.60H1925.9M249.9 774.90H230.9M1907.3 774.90H1925.9" stroke="#000" stroke-width="2.7" fill="none"/>
<rect x="249.9" y="199.0" width="1657.4" height="637.8" fill="none" stroke="#000" stroke-width="5.8"/>
<text class="b" transform="translate(214.60 244.80) scale(1.0 1.08)" font-size="42.9" text-anchor="end">30</text>
<text class="b" transform="translate(214.60 354.10) scale(1.0 1.08)" font-size="42.9" text-anchor="end">20</text>
<text class="b" transform="translate(214.60 463.40) scale(1.0 1.08)" font-size="42.9" text-anchor="end">10</text>
<text class="b" transform="translate(214.60 572.70) scale(1.0 1.08)" font-size="42.9" text-anchor="end">0</text>
<text class="b" transform="translate(214.60 682.00) scale(1.0 1.08)" font-size="42.9" text-anchor="end"><tspan dy="4.2">−</tspan><tspan dy="-4.2">10</tspan></text>
<text class="b" transform="translate(214.60 791.30) scale(1.0 1.08)" font-size="42.9" text-anchor="end"><tspan dy="4.2">−</tspan><tspan dy="-4.2">20</tspan></text>
<text class="b" transform="translate(281.55 903.50) scale(1.0 1.08)" font-size="42.9" text-anchor="middle">0</text>
<text class="b" transform="translate(414.53 903.50) scale(1.0 1.08)" font-size="42.9" text-anchor="middle">6</text>
<text class="b" transform="translate(547.51 903.50) scale(1.0 1.08)" font-size="42.9" text-anchor="middle">12</text>
<text class="b" transform="translate(680.48 903.50) scale(1.0 1.08)" font-size="42.9" text-anchor="middle">18</text>
<text class="b" transform="translate(813.46 903.50) scale(1.0 1.08)" font-size="42.9" text-anchor="middle">24</text>
<text class="b" transform="translate(946.44 903.50) scale(1.0 1.08)" font-size="42.9" text-anchor="middle">30</text>
<text class="b" transform="translate(1079.42 903.50) scale(1.0 1.08)" font-size="42.9" text-anchor="middle">36</text>
<text class="b" transform="translate(1212.40 903.50) scale(1.0 1.08)" font-size="42.9" text-anchor="middle">42</text>
<text class="b" transform="translate(1345.37 903.50) scale(1.0 1.08)" font-size="42.9" text-anchor="middle">48</text>
<text class="b" transform="translate(1478.35 903.50) scale(1.0 1.08)" font-size="42.9" text-anchor="middle">54</text>
<text class="b" transform="translate(1611.33 903.50) scale(1.0 1.08)" font-size="42.9" text-anchor="middle">60</text>
<text class="b" transform="translate(1744.31 903.50) scale(1.0 1.08)" font-size="42.9" text-anchor="middle">66</text>
<text class="b" transform="translate(1877.29 903.50) scale(1.0 1.08)" font-size="42.9" text-anchor="middle">72</text>
<text transform="translate(114.00 517.90) rotate(-90) scale(1.0 1.045)" font-size="42.4" text-anchor="middle">East (mm)</text>
</g>
<g id="panel2">
<g class="d">
<circle cx="281.4" cy="1336.3" r="6.3"/><circle cx="288.8" cy="1332.1" r="6.3"/><circle cx="294" cy="1342.6" r="6.3"/><circle cx="285.2" cy="1354.6" r="6.3"/><circle cx="287.3" cy="1316" r="6.3"/><circle cx="289.8" cy="1310.1" r="6.3"/><circle cx="292.5" cy="1303.9" r="6.3"/><circle cx="299.3" cy="1318.5" r="6.3"/><circle cx="305.5" cy="1310.1" r="6.3"/><circle cx="300.3" cy="1329" r="6.3"/><circle cx="295.1" cy="1333.2" r="6.3"/><circle cx="311.2" cy="1333.6" r="6.3"/><circle cx="312.9" cy="1350.4" r="6.3"/><circle cx="309.3" cy="1294.4" r="6.3"/><circle cx="318.1" cy="1299.7" r="6.3"/><circle cx="322.3" cy="1293" r="6.3"/><circle cx="327.6" cy="1293" r="6.3"/><circle cx="323.4" cy="1301.8" r="6.3"/><circle cx="319.2" cy="1307" r="6.3"/><circle cx="312.9" cy="1311.2" r="6.3"/><circle cx="317.5" cy="1317.5" r="6.3"/><circle cx="327.6" cy="1310.1" r="6.3"/><circle cx="331.3" cy="1317.5" r="6.3"/><circle cx="342.2" cy="1328.6" r="6.3"/><circle cx="347.5" cy="1313.3" r="6.3"/><circle cx="348.5" cy="1320.6" r="6.3"/><circle cx="354.4" cy="1326.5" r="6.3"/><circle cx="359" cy="1325.2" r="6.3"/><circle cx="365.9" cy="1319.6" r="6.3"/><circle cx="372.2" cy="1316" r="6.3"/><circle cx="375.8" cy="1321.7" r="6.3"/><circle cx="367.4" cy="1331.1" r="6.3"/><circle cx="369.5" cy="1337.4" r="6.3"/><circle cx="377.4" cy="1338" r="6.3"/><circle cx="388.3" cy="1329" r="6.3"/><circle cx="343.9" cy="1341.6" r="6.3"/><circle cx="336.6" cy="1348.9" r="6.3"/><circle cx="334.9" cy="1358.3" r="6.3"/><circle cx="329.6" cy="1376.6" r="6.3"/><circle cx="339.7" cy="1371.6" r="6.3"/><circle cx="353.8" cy="1368.4" r="6.3"/><circle cx="351.2" cy="1373.6" r="6.3"/><circle cx="361.1" cy="1384.1" r="6.3"/><circle cx="362.8" cy="1354.2" r="6.3"/><circle cx="373.7" cy="1366.7" r="6.3"/><circle cx="333.2" cy="1408" r="6.3"/><circle cx="364.2" cy="1289.6" r="6.3"/><circle cx="380.4" cy="1294.8" r="6.3"/><circle cx="383.1" cy="1276.6" r="6.3"/><circle cx="392.5" cy="1273.5" r="6.3"/><circle cx="394.2" cy="1260.9" r="6.3"/><circle cx="396.1" cy="1286" r="6.3"/><circle cx="386.2" cy="1306.4" r="6.3"/><circle cx="393.6" cy="1303.9" r="6.3"/><circle cx="399.2" cy="1305.3" r="6.3"/><circle cx="405.1" cy="1318.9" r="6.3"/><circle cx="410.3" cy="1275.6" r="6.3"/><circle cx="413.5" cy="1274.5" r="6.3"/><circle cx="408.2" cy="1296.5" r="6.3"/><circle cx="415.6" cy="1291.9" r="6.3"/><circle cx="411" cy="1301.8" r="6.3"/><circle cx="429.2" cy="1298.2" r="6.3"/><circle cx="438.6" cy="1301.1" r="6.3"/><circle cx="449.1" cy="1303.2" r="6.3"/><circle cx="450.2" cy="1309.1" r="6.3"/><circle cx="444.9" cy="1313.9" r="6.3"/><circle cx="426.1" cy="1317.1" r="6.3"/><circle cx="422.9" cy="1321.7" r="6.3"/><circle cx="434.4" cy="1330.1" r="6.3"/><circle cx="432.3" cy="1334.2" r="6.3"/><circle cx="418.3" cy="1339.3" r="6.3"/><circle cx="421.4" cy="1352.1" r="6.3"/><circle cx="431.3" cy="1358.3" r="6.3"/><circle cx="420.2" cy="1371.6" r="6.3"/><circle cx="401.3" cy="1373" r="6.3"/><circle cx="403.4" cy="1399.2" r="6.3"/><circle cx="447.4" cy="1338.4" r="6.3"/><circle cx="460.2" cy="1330.7" r="6.3"/><circle cx="458.5" cy="1348.3" r="6.3"/><circle cx="455" cy="1360.9" r="6.3"/><circle cx="452.9" cy="1376.2" r="6.3"/><circle cx="457.1" cy="1395.4" r="6.3"/><circle cx="440.3" cy="1278.1" r="6.3"/><circle cx="442.2" cy="1284.4" r="6.3"/><circle cx="462.7" cy="1278.1" r="6.3"/><circle cx="471.5" cy="1281.8" r="6.3"/><circle cx="465.9" cy="1289.2" r="6.3"/><circle cx="468" cy="1299.7" r="6.3"/><circle cx="463.8" cy="1304.9" r="6.3"/><circle cx="475.3" cy="1301.8" r="6.3"/><circle cx="469.7" cy="1310.1" r="6.3"/><circle cx="480.6" cy="1308" r="6.3"/><circle cx="486.8" cy="1308.7" r="6.3"/><circle cx="477.4" cy="1344.7" r="6.3"/><circle cx="479.1" cy="1359.8" r="6.3"/><circle cx="490" cy="1351" r="6.3"/><circle cx="482.2" cy="1325.9" r="6.3"/><circle cx="485.8" cy="1320.6" r="6.3"/><circle cx="493.1" cy="1322.7" r="6.3"/><circle cx="495.2" cy="1314.3" r="6.3"/><circle cx="499.4" cy="1312.2" r="6.3"/><circle cx="505.3" cy="1302.8" r="6.3"/><circle cx="512" cy="1291.9" r="6.3"/><circle cx="507.8" cy="1310.1" r="6.3"/><circle cx="502.6" cy="1319.6" r="6.3"/><circle cx="510.9" cy="1322.1" r="6.3"/><circle cx="516.2" cy="1311.2" r="6.3"/><circle cx="525.2" cy="1309.1" r="6.3"/><circle cx="518.3" cy="1333.2" r="6.3"/><circle cx="523.5" cy="1334.2" r="6.3"/><circle cx="513.7" cy="1339.5" r="6.3"/><circle cx="519.3" cy="1392.9" r="6.3"/><circle cx="526.7" cy="1361.5" r="6.3"/><circle cx="533" cy="1361.1" r="6.3"/><circle cx="530.4" cy="1368.8" r="6.3"/><circle cx="535.1" cy="1341" r="6.3"/><circle cx="540.3" cy="1342.6" r="6.3"/><circle cx="543.4" cy="1331.7" r="6.3"/><circle cx="547" cy="1354.2" r="6.3"/><circle cx="538.2" cy="1303.2" r="6.3"/><circle cx="536.1" cy="1314.3" r="6.3"/><circle cx="542" cy="1319.6" r="6.3"/><circle cx="549.1" cy="1304.9" r="6.3"/><circle cx="552.9" cy="1311.2" r="6.3"/><circle cx="564.4" cy="1306.4" r="6.3"/><circle cx="573.8" cy="1307" r="6.3"/><circle cx="568.6" cy="1315.4" r="6.3"/><circle cx="561.2" cy="1322.7" r="6.3"/><circle cx="566.5" cy="1331.1" r="6.3"/><circle cx="556" cy="1333.2" r="6.3"/><circle cx="560.2" cy="1337.4" r="6.3"/><circle cx="558.1" cy="1341.6" r="6.3"/><circle cx="575.3" cy="1368.4" r="6.3"/><circle cx="577" cy="1483.1" r="6.3"/><circle cx="641.7" cy="1189.6" r="6.3"/><circle cx="731.9" cy="1185.9" r="6.3"/><circle cx="726.2" cy="1192.3" r="6.3"/><circle cx="719.3" cy="1207.9" r="6.3"/><circle cx="734" cy="1219" r="6.3"/><circle cx="704.2" cy="1223.6" r="6.3"/><circle cx="663.7" cy="1221.1" r="6.3"/><circle cx="632.3" cy="1219" r="6.3"/><circle cx="638" cy="1225.3" r="6.3"/><circle cx="809.6" cy="1192.3" r="6.3"/><circle cx="808.4" cy="1211.6" r="6.3"/><circle cx="803.5" cy="1214.8" r="6.3"/><circle cx="800" cy="1230.5" r="6.3"/><circle cx="796.4" cy="1236.8" r="6.3"/><circle cx="870.6" cy="1195.9" r="6.3"/><circle cx="872.7" cy="1208.9" r="6.3"/><circle cx="865" cy="1215.4" r="6.3"/><circle cx="868.5" cy="1232.6" r="6.3"/><circle cx="912.1" cy="1223.2" r="6.3"/><circle cx="907.3" cy="1273.5" r="6.3"/><circle cx="685.8" cy="1242" r="6.3"/><circle cx="722.8" cy="1237.4" r="6.3"/><circle cx="715.1" cy="1246.8" r="6.3"/><circle cx="735.6" cy="1243.7" r="6.3"/><circle cx="747" cy="1238.9" r="6.3"/><circle cx="728.1" cy="1259.2" r="6.3"/><circle cx="724.5" cy="1266.5" r="6.3"/><circle cx="610.3" cy="1254.2" r="6.3"/><circle cx="636.1" cy="1250.8" r="6.3"/><circle cx="628.5" cy="1258.4" r="6.3"/><circle cx="649.1" cy="1266.8" r="6.3"/><circle cx="651.2" cy="1274.1" r="6.3"/><circle cx="642.8" cy="1275.6" r="6.3"/><circle cx="634" cy="1274.5" r="6.3"/><circle cx="706.7" cy="1274.5" r="6.3"/><circle cx="712.4" cy="1274.5" r="6.3"/><circle cx="707.8" cy="1280.8" r="6.3"/><circle cx="767.1" cy="1261.9" r="6.3"/><circle cx="773.2" cy="1268.2" r="6.3"/><circle cx="779" cy="1269.9" r="6.3"/><circle cx="783.2" cy="1271.4" r="6.3"/><circle cx="795.2" cy="1275.1" r="6.3"/><circle cx="802.1" cy="1254.2" r="6.3"/><circle cx="811.5" cy="1258.4" r="6.3"/><circle cx="861.8" cy="1256.3" r="6.3"/><circle cx="866.6" cy="1265.1" r="6.3"/><circle cx="839.2" cy="1278.1" r="6.3"/><circle cx="852" cy="1280.2" r="6.3"/><circle cx="877.9" cy="1287.1" r="6.3"/><circle cx="774.4" cy="1286.7" r="6.3"/><circle cx="789.5" cy="1290.2" r="6.3"/><circle cx="783.8" cy="1304.5" r="6.3"/><circle cx="792.2" cy="1312.2" r="6.3"/><circle cx="837.3" cy="1296.5" r="6.3"/><circle cx="841.3" cy="1304.5" r="6.3"/><circle cx="830" cy="1314.3" r="6.3"/><circle cx="857.2" cy="1315" r="6.3"/><circle cx="910.6" cy="1319.6" r="6.3"/><circle cx="622.9" cy="1295.1" r="6.3"/><circle cx="620.8" cy="1301.8" r="6.3"/><circle cx="618.7" cy="1307.6" r="6.3"/><circle cx="625" cy="1313.7" r="6.3"/><circle cx="644.9" cy="1300.3" r="6.3"/><circle cx="660" cy="1294.8" r="6.3"/><circle cx="673.2" cy="1296.1" r="6.3"/><circle cx="682.2" cy="1292.3" r="6.3"/><circle cx="696.9" cy="1302.2" r="6.3"/><circle cx="714.5" cy="1303.9" r="6.3"/><circle cx="718.2" cy="1304.5" r="6.3"/><circle cx="709.4" cy="1312.9" r="6.3"/><circle cx="702.5" cy="1318.5" r="6.3"/><circle cx="693.1" cy="1318.5" r="6.3"/><circle cx="691.4" cy="1325.9" r="6.3"/><circle cx="684.7" cy="1330.7" r="6.3"/><circle cx="677.4" cy="1327.3" r="6.3"/><circle cx="671.1" cy="1322.7" r="6.3"/><circle cx="666.3" cy="1323.3" r="6.3"/><circle cx="700.8" cy="1334.7" r="6.3"/><circle cx="589.8" cy="1310.1" r="6.3"/><circle cx="597.7" cy="1320.6" r="6.3"/><circle cx="592.9" cy="1324.4" r="6.3"/><circle cx="617.6" cy="1324.4" r="6.3"/><circle cx="626.6" cy="1330.1" r="6.3"/><circle cx="737.5" cy="1315.4" r="6.3"/><circle cx="750.1" cy="1317.9" r="6.3"/><circle cx="748.6" cy="1327.3" r="6.3"/><circle cx="738.8" cy="1328.6" r="6.3"/><circle cx="762.3" cy="1315.8" r="6.3"/><circle cx="766" cy="1313.3" r="6.3"/><circle cx="771.7" cy="1316.8" r="6.3"/><circle cx="755.5" cy="1340.1" r="6.3"/><circle cx="768.5" cy="1338.4" r="6.3"/><circle cx="780.1" cy="1330.7" r="6.3"/><circle cx="786.4" cy="1328" r="6.3"/><circle cx="813.4" cy="1326.9" r="6.3"/><circle cx="815.7" cy="1339.5" r="6.3"/><circle cx="820.9" cy="1342.6" r="6.3"/><circle cx="835.6" cy="1326.9" r="6.3"/><circle cx="844.6" cy="1331.1" r="6.3"/><circle cx="842.9" cy="1344.3" r="6.3"/><circle cx="854.1" cy="1343.3" r="6.3"/><circle cx="850.3" cy="1355.6" r="6.3"/><circle cx="847.1" cy="1362.5" r="6.3"/><circle cx="855.5" cy="1372" r="6.3"/><circle cx="874.4" cy="1332.1" r="6.3"/><circle cx="880.3" cy="1331.1" r="6.3"/><circle cx="875.9" cy="1342.6" r="6.3"/><circle cx="833.5" cy="1386" r="6.3"/><circle cx="859.3" cy="1397.5" r="6.3"/><circle cx="822.4" cy="1400.3" r="6.3"/><circle cx="831.8" cy="1402.4" r="6.3"/><circle cx="818.8" cy="1416" r="6.3"/><circle cx="826.2" cy="1419.8" r="6.3"/><circle cx="828.3" cy="1425.4" r="6.3"/><circle cx="824.1" cy="1429.2" r="6.3"/><circle cx="787.4" cy="1397.8" r="6.3"/><circle cx="744.9" cy="1364.6" r="6.3"/><circle cx="752.4" cy="1377.2" r="6.3"/><circle cx="758.1" cy="1388.3" r="6.3"/><circle cx="753.9" cy="1395" r="6.3"/><circle cx="741.7" cy="1408.2" r="6.3"/><circle cx="743.4" cy="1413.9" r="6.3"/><circle cx="763.3" cy="1409.7" r="6.3"/><circle cx="759.7" cy="1419.6" r="6.3"/><circle cx="687.8" cy="1350" r="6.3"/><circle cx="689.5" cy="1369.2" r="6.3"/><circle cx="657.9" cy="1352.1" r="6.3"/><circle cx="669" cy="1353.7" r="6.3"/><circle cx="664.8" cy="1358.8" r="6.3"/><circle cx="676.3" cy="1361.1" r="6.3"/><circle cx="652.6" cy="1375.1" r="6.3"/><circle cx="654.3" cy="1385" r="6.3"/><circle cx="695.2" cy="1387.7" r="6.3"/><circle cx="698.7" cy="1392.9" r="6.3"/><circle cx="680.1" cy="1404.5" r="6.3"/><circle cx="630.6" cy="1368.8" r="6.3"/><circle cx="613.4" cy="1356.3" r="6.3"/><circle cx="600.9" cy="1363.2" r="6.3"/><circle cx="607.2" cy="1365.7" r="6.3"/><circle cx="613" cy="1367.8" r="6.3"/><circle cx="599.2" cy="1376.8" r="6.3"/><circle cx="585.1" cy="1366.3" r="6.3"/><circle cx="587.9" cy="1383.1" r="6.3"/><circle cx="595" cy="1391.9" r="6.3"/><circle cx="606.7" cy="1387.7" r="6.3"/><circle cx="615.5" cy="1384.5" r="6.3"/><circle cx="608.2" cy="1393.4" r="6.3"/><circle cx="602.5" cy="1401.3" r="6.3"/><circle cx="591.6" cy="1424.4" r="6.3"/><circle cx="905.8" cy="1407" r="6.3"/><circle cx="909" cy="1428.6" r="6.3"/><circle cx="881.7" cy="1421.2" r="6.3"/><circle cx="883.8" cy="1425.4" r="6.3"/><circle cx="887.2" cy="1457.5" r="6.3"/><circle cx="903.7" cy="1457.5" r="6.3"/><circle cx="897.4" cy="1466.7" r="6.3"/><circle cx="902.7" cy="1468.4" r="6.3"/><circle cx="892.8" cy="1477.8" r="6.3"/><circle cx="885.3" cy="1487.7" r="6.3"/><circle cx="900.2" cy="1486.8" r="6.3"/><circle cx="656.4" cy="1491.4" r="6.3"/><circle cx="583" cy="1466.3" r="6.3"/><circle cx="582" cy="1476.8" r="6.3"/><circle cx="586.2" cy="1487.9" r="6.3"/><circle cx="916.1" cy="1252.5" r="6.3"/><circle cx="924.1" cy="1244.1" r="6.3"/><circle cx="961.2" cy="1251.9" r="6.3"/><circle cx="935" cy="1273" r="6.3"/><circle cx="920.7" cy="1281.8" r="6.3"/><circle cx="925.9" cy="1302.4" r="6.3"/><circle cx="957.4" cy="1301.1" r="6.3"/><circle cx="928" cy="1315.4" r="6.3"/><circle cx="931.8" cy="1320.6" r="6.3"/><circle cx="939.2" cy="1324.8" r="6.3"/><circle cx="948.6" cy="1326.5" r="6.3"/><circle cx="933.9" cy="1336.3" r="6.3"/><circle cx="922.4" cy="1337.8" r="6.3"/><circle cx="918.2" cy="1359.4" r="6.3"/><circle cx="931.2" cy="1365.3" r="6.3"/><circle cx="942.3" cy="1363.2" r="6.3"/><circle cx="946.5" cy="1355.2" r="6.3"/><circle cx="952.8" cy="1347.9" r="6.3"/><circle cx="950.7" cy="1340.5" r="6.3"/><circle cx="954.9" cy="1333.2" r="6.3"/><circle cx="959.1" cy="1320.6" r="6.3"/><circle cx="964.3" cy="1325.9" r="6.3"/><circle cx="968.1" cy="1333.6" r="6.3"/><circle cx="972.1" cy="1310.6" r="6.3"/><circle cx="969.5" cy="1318.5" r="6.3"/><circle cx="977.9" cy="1331.1" r="6.3"/><circle cx="981.5" cy="1322.1" r="6.3"/><circle cx="985.3" cy="1334.7" r="6.3"/><circle cx="988.4" cy="1314.3" r="6.3"/><circle cx="994.7" cy="1315.4" r="6.3"/><circle cx="997.8" cy="1309.7" r="6.3"/><circle cx="1002" cy="1310.1" r="6.3"/><circle cx="986.9" cy="1294" r="6.3"/><circle cx="992.6" cy="1283.5" r="6.3"/><circle cx="983.2" cy="1351.6" r="6.3"/><circle cx="990.5" cy="1361.9" r="6.3"/><circle cx="974.2" cy="1375.7" r="6.3"/><circle cx="975.8" cy="1392.5" r="6.3"/><circle cx="996.2" cy="1382.9" r="6.3"/><circle cx="940.8" cy="1376.8" r="6.3"/><circle cx="944.6" cy="1445.3" r="6.3"/><circle cx="999.9" cy="1337" r="6.3"/><circle cx="1006.2" cy="1333.2" r="6.3"/><circle cx="1012.5" cy="1337.4" r="6.3"/><circle cx="1010.4" cy="1330.1" r="6.3"/><circle cx="1014.6" cy="1322.7" r="6.3"/><circle cx="1021.9" cy="1325.9" r="6.3"/><circle cx="1031.4" cy="1321.7" r="6.3"/><circle cx="1033.5" cy="1331.1" r="6.3"/><circle cx="1039.8" cy="1333.2" r="6.3"/><circle cx="1042.9" cy="1329" r="6.3"/><circle cx="1049.6" cy="1321.7" r="6.3"/><circle cx="1016.3" cy="1290.2" r="6.3"/><circle cx="1018.2" cy="1308" r="6.3"/><circle cx="1024" cy="1311.2" r="6.3"/><circle cx="1027.2" cy="1302.8" r="6.3"/><circle cx="1029.7" cy="1299" r="6.3"/><circle cx="1046" cy="1305.5" r="6.3"/><circle cx="1055.1" cy="1299" r="6.3"/><circle cx="1066.4" cy="1283.9" r="6.3"/><circle cx="1068.1" cy="1301.8" r="6.3"/><circle cx="1072.2" cy="1309.1" r="6.3"/><circle cx="1074.3" cy="1315.4" r="6.3"/><circle cx="1077.5" cy="1320.6" r="6.3"/><circle cx="1064.9" cy="1322.7" r="6.3"/><circle cx="1069.1" cy="1329" r="6.3"/><circle cx="1074.3" cy="1331.1" r="6.3"/><circle cx="1062.4" cy="1333.2" r="6.3"/><circle cx="1079.6" cy="1305.9" r="6.3"/><circle cx="1084.8" cy="1299" r="6.3"/><circle cx="1086.9" cy="1330.1" r="6.3"/><circle cx="1096.3" cy="1303.2" r="6.3"/><circle cx="1103.3" cy="1294.4" r="6.3"/><circle cx="1098" cy="1328.6" r="6.3"/><circle cx="1101.6" cy="1326.3" r="6.3"/><circle cx="1112.5" cy="1314.3" r="6.3"/><circle cx="1088.6" cy="1250.4" r="6.3"/><circle cx="1093.8" cy="1267.6" r="6.3"/><circle cx="1092.2" cy="1278.7" r="6.3"/><circle cx="1082.9" cy="1344.1" r="6.3"/><circle cx="1090.1" cy="1357.7" r="6.3"/><circle cx="1099.5" cy="1359.8" r="6.3"/><circle cx="1105.2" cy="1368.8" r="6.3"/><circle cx="1110.4" cy="1386.2" r="6.3"/><circle cx="1118.4" cy="1404" r="6.3"/><circle cx="1106.8" cy="1416.4" r="6.3"/><circle cx="1108.5" cy="1449.5" r="6.3"/><circle cx="1120" cy="1455.4" r="6.3"/><circle cx="1114.2" cy="1473.6" r="6.3"/><circle cx="1060.3" cy="1460.6" r="6.3"/><circle cx="1059" cy="1472.6" r="6.3"/><circle cx="1051.5" cy="1400.7" r="6.3"/><circle cx="1053.4" cy="1415.6" r="6.3"/><circle cx="1004.1" cy="1352.1" r="6.3"/><circle cx="1009.4" cy="1349.5" r="6.3"/><circle cx="1020.3" cy="1348.3" r="6.3"/><circle cx="1036.2" cy="1350.6" r="6.3"/><circle cx="1043.9" cy="1350" r="6.3"/><circle cx="1048.1" cy="1353.7" r="6.3"/><circle cx="1040.2" cy="1358.8" r="6.3"/><circle cx="1123.6" cy="1230.5" r="6.3"/><circle cx="1139.9" cy="1239.9" r="6.3"/><circle cx="1152.9" cy="1234.7" r="6.3"/><circle cx="1158.8" cy="1237.2" r="6.3"/><circle cx="1169.7" cy="1232.2" r="6.3"/><circle cx="1199.1" cy="1223.8" r="6.3"/><circle cx="1190" cy="1241.6" r="6.3"/><circle cx="1188.2" cy="1257.1" r="6.3"/><circle cx="1185.8" cy="1268.2" r="6.3"/><circle cx="1184.4" cy="1273.5" r="6.3"/><circle cx="1197.4" cy="1269.3" r="6.3"/><circle cx="1129.3" cy="1269.9" r="6.3"/><circle cx="1147.3" cy="1273" r="6.3"/><circle cx="1150.8" cy="1272.4" r="6.3"/><circle cx="1156.7" cy="1274.9" r="6.3"/><circle cx="1151.3" cy="1286.5" r="6.3"/><circle cx="1145.6" cy="1298.6" r="6.3"/><circle cx="1132.6" cy="1311.8" r="6.3"/><circle cx="1144.1" cy="1324.2" r="6.3"/><circle cx="1134.1" cy="1329" r="6.3"/><circle cx="1155" cy="1314.3" r="6.3"/><circle cx="1160.3" cy="1319.6" r="6.3"/><circle cx="1162.4" cy="1324.2" r="6.3"/><circle cx="1164" cy="1307.4" r="6.3"/><circle cx="1171.4" cy="1286" r="6.3"/><circle cx="1167.6" cy="1290.6" r="6.3"/><circle cx="1182.7" cy="1296.9" r="6.3"/><circle cx="1195.9" cy="1299" r="6.3"/><circle cx="1190.7" cy="1302.8" r="6.3"/><circle cx="1193.8" cy="1310.1" r="6.3"/><circle cx="1180.6" cy="1316" r="6.3"/><circle cx="1177" cy="1323.8" r="6.3"/><circle cx="1174.9" cy="1331.1" r="6.3"/><circle cx="1173.5" cy="1349.5" r="6.3"/><circle cx="1165.9" cy="1360.4" r="6.3"/><circle cx="1179.1" cy="1366.7" r="6.3"/><circle cx="1201.1" cy="1373.4" r="6.3"/><circle cx="1206.8" cy="1404" r="6.3"/><circle cx="1121.5" cy="1361.5" r="6.3"/><circle cx="1128.2" cy="1362.5" r="6.3"/><circle cx="1136.2" cy="1357.9" r="6.3"/><circle cx="1141.8" cy="1370.9" r="6.3"/><circle cx="1125.7" cy="1374.1" r="6.3"/><circle cx="1138.3" cy="1382.5" r="6.3"/><circle cx="1221.5" cy="1286.7" r="6.3"/><circle cx="1217.5" cy="1298.2" r="6.3"/><circle cx="1212.3" cy="1308.7" r="6.3"/><circle cx="1219.6" cy="1318.9" r="6.3"/><circle cx="1227.3" cy="1327.5" r="6.3"/><circle cx="1210.6" cy="1328" r="6.3"/><circle cx="1205.3" cy="1331.1" r="6.3"/><circle cx="1202.2" cy="1334.2" r="6.3"/><circle cx="1214.1" cy="1345.4" r="6.3"/><circle cx="1208.5" cy="1351" r="6.3"/><circle cx="1225.2" cy="1346.8" r="6.3"/><circle cx="1223.2" cy="1356.7" r="6.3"/><circle cx="1215.8" cy="1362.5" r="6.3"/><circle cx="1236.1" cy="1362.5" r="6.3"/><circle cx="1239.9" cy="1348.9" r="6.3"/><circle cx="1243.1" cy="1336.3" r="6.3"/><circle cx="1238.2" cy="1286.5" r="6.3"/><circle cx="1241.4" cy="1273.9" r="6.3"/><circle cx="1244.1" cy="1255.6" r="6.3"/><circle cx="1244.7" cy="1230.9" r="6.3"/><circle cx="1234.1" cy="1378.9" r="6.3"/><circle cx="1227.8" cy="1382.5" r="6.3"/><circle cx="1230.5" cy="1391.3" r="6.3"/><circle cx="1232.6" cy="1467.3" r="6.3"/><circle cx="1260.7" cy="1179.1" r="6.3"/><circle cx="1252.7" cy="1186.9" r="6.3"/><circle cx="1330.3" cy="1180.2" r="6.3"/><circle cx="1337.8" cy="1189.2" r="6.3"/><circle cx="1515.1" cy="1184.8" r="6.3"/><circle cx="1249.1" cy="1223.2" r="6.3"/><circle cx="1255.4" cy="1232.2" r="6.3"/><circle cx="1263.8" cy="1228.8" r="6.3"/><circle cx="1271.2" cy="1243.7" r="6.3"/><circle cx="1269.1" cy="1251.5" r="6.3"/><circle cx="1265.5" cy="1277.2" r="6.3"/><circle cx="1273.2" cy="1296.9" r="6.3"/><circle cx="1284.4" cy="1312.7" r="6.3"/><circle cx="1290" cy="1323.1" r="6.3"/><circle cx="1287.9" cy="1334.9" r="6.3"/><circle cx="1276" cy="1336.3" r="6.3"/><circle cx="1262.1" cy="1334.2" r="6.3"/><circle cx="1331.9" cy="1225.7" r="6.3"/><circle cx="1336.1" cy="1233.2" r="6.3"/><circle cx="1354.4" cy="1241.6" r="6.3"/><circle cx="1339.7" cy="1278.7" r="6.3"/><circle cx="1341.4" cy="1291.9" r="6.3"/><circle cx="1319.4" cy="1291.3" r="6.3"/><circle cx="1314.1" cy="1293.4" r="6.3"/><circle cx="1308.2" cy="1302.8" r="6.3"/><circle cx="1321" cy="1304.3" r="6.3"/><circle cx="1312" cy="1315" r="6.3"/><circle cx="1303.6" cy="1320.6" r="6.3"/><circle cx="1309.9" cy="1322.7" r="6.3"/><circle cx="1314.1" cy="1324.8" r="6.3"/><circle cx="1305.7" cy="1332.8" r="6.3"/><circle cx="1311" cy="1331.1" r="6.3"/><circle cx="1345.1" cy="1313.7" r="6.3"/><circle cx="1356.5" cy="1312.9" r="6.3"/><circle cx="1343.5" cy="1327.3" r="6.3"/><circle cx="1350.8" cy="1330.1" r="6.3"/><circle cx="1355" cy="1330.7" r="6.3"/><circle cx="1359.8" cy="1332.8" r="6.3"/><circle cx="1369.2" cy="1353.5" r="6.3"/><circle cx="1348.7" cy="1369.9" r="6.3"/><circle cx="1347" cy="1376.6" r="6.3"/><circle cx="1295.3" cy="1365.7" r="6.3"/><circle cx="1291.1" cy="1372.6" r="6.3"/><circle cx="1303" cy="1373.6" r="6.3"/><circle cx="1267.6" cy="1383.5" r="6.3"/><circle cx="1280.6" cy="1381.8" r="6.3"/><circle cx="1278.5" cy="1391.9" r="6.3"/><circle cx="1285.8" cy="1394" r="6.3"/><circle cx="1282.1" cy="1397.8" r="6.3"/><circle cx="1295.3" cy="1402.4" r="6.3"/><circle cx="1299.4" cy="1411.2" r="6.3"/><circle cx="1300.9" cy="1434.4" r="6.3"/><circle cx="1371.1" cy="1261.9" r="6.3"/><circle cx="1367.1" cy="1270.3" r="6.3"/><circle cx="1361.7" cy="1279.3" r="6.3"/><circle cx="1365.5" cy="1288.1" r="6.3"/><circle cx="1359.8" cy="1296.5" r="6.3"/><circle cx="1372.8" cy="1309.1" r="6.3"/><circle cx="1377" cy="1301.8" r="6.3"/><circle cx="1379.1" cy="1283.9" r="6.3"/><circle cx="1383.9" cy="1267.6" r="6.3"/><circle cx="1387.5" cy="1277.7" r="6.3"/><circle cx="1390.2" cy="1285" r="6.3"/><circle cx="1382.2" cy="1287.1" r="6.3"/><circle cx="1394.8" cy="1251.9" r="6.3"/><circle cx="1382.2" cy="1317.5" r="6.3"/><circle cx="1391.7" cy="1314.3" r="6.3"/><circle cx="1402.1" cy="1312.2" r="6.3"/><circle cx="1404.2" cy="1301.1" r="6.3"/><circle cx="1396.9" cy="1340.5" r="6.3"/><circle cx="1406.3" cy="1334.2" r="6.3"/><circle cx="1410.5" cy="1338.4" r="6.3"/><circle cx="1400.7" cy="1348.3" r="6.3"/><circle cx="1393.3" cy="1359.8" r="6.3"/><circle cx="1411.6" cy="1381.8" r="6.3"/><circle cx="1407.8" cy="1398.8" r="6.3"/><circle cx="1415.4" cy="1304.3" r="6.3"/><circle cx="1412.6" cy="1316" r="6.3"/><circle cx="1420" cy="1310.1" r="6.3"/><circle cx="1418.9" cy="1320.6" r="6.3"/><circle cx="1422.1" cy="1326.9" r="6.3"/><circle cx="1421" cy="1332.1" r="6.3"/><circle cx="1427.9" cy="1301.8" r="6.3"/><circle cx="1430.4" cy="1312.2" r="6.3"/><circle cx="1427.3" cy="1320.6" r="6.3"/><circle cx="1428.3" cy="1328" r="6.3"/><circle cx="1436.7" cy="1303.9" r="6.3"/><circle cx="1435.7" cy="1315.4" r="6.3"/><circle cx="1439.9" cy="1320.6" r="6.3"/><circle cx="1444.1" cy="1303.9" r="6.3"/><circle cx="1447.2" cy="1310.1" r="6.3"/><circle cx="1452.5" cy="1322.7" r="6.3"/><circle cx="1453.5" cy="1308" r="6.3"/><circle cx="1461.5" cy="1305.3" r="6.3"/><circle cx="1463.6" cy="1314.8" r="6.3"/><circle cx="1435.7" cy="1282.3" r="6.3"/><circle cx="1446.8" cy="1291.3" r="6.3"/><circle cx="1454.1" cy="1266.1" r="6.3"/><circle cx="1460.2" cy="1267.6" r="6.3"/><circle cx="1467.1" cy="1273.5" r="6.3"/><circle cx="1465" cy="1282.3" r="6.3"/><circle cx="1470.9" cy="1296.1" r="6.3"/><circle cx="1483.9" cy="1298.2" r="6.3"/><circle cx="1474.5" cy="1321" r="6.3"/><circle cx="1468.8" cy="1230.1" r="6.3"/><circle cx="1472.4" cy="1347.2" r="6.3"/><circle cx="1480.3" cy="1362.5" r="6.3"/><circle cx="1481.8" cy="1366.3" r="6.3"/><circle cx="1476.6" cy="1385" r="6.3"/><circle cx="1478.2" cy="1397.8" r="6.3"/><circle cx="1456" cy="1414.3" r="6.3"/><circle cx="1489.1" cy="1322.7" r="6.3"/><circle cx="1496.5" cy="1321" r="6.3"/><circle cx="1492.3" cy="1331.1" r="6.3"/><circle cx="1485.6" cy="1335.7" r="6.3"/><circle cx="1493.3" cy="1345.4" r="6.3"/><circle cx="1500.7" cy="1346.2" r="6.3"/><circle cx="1503.8" cy="1352.1" r="6.3"/><circle cx="1495.4" cy="1357.3" r="6.3"/><circle cx="1505.9" cy="1360.4" r="6.3"/><circle cx="1508" cy="1334.2" r="6.3"/><circle cx="1513.9" cy="1336.3" r="6.3"/><circle cx="1511.1" cy="1339.5" r="6.3"/><circle cx="1509" cy="1374.5" r="6.3"/><circle cx="1520.6" cy="1376.2" r="6.3"/><circle cx="1518.9" cy="1280.8" r="6.3"/><circle cx="1516.8" cy="1289.2" r="6.3"/><circle cx="1529" cy="1296.1" r="6.3"/><circle cx="1523.7" cy="1321.7" r="6.3"/><circle cx="1526.9" cy="1328" r="6.3"/><circle cx="1537.3" cy="1325.4" r="6.3"/><circle cx="1535.2" cy="1333.2" r="6.3"/><circle cx="1539" cy="1245.6" r="6.3"/><circle cx="1540.9" cy="1255.6" r="6.3"/><circle cx="1542.8" cy="1278.3" r="6.3"/><circle cx="1561.2" cy="1292.3" r="6.3"/><circle cx="1544.7" cy="1303.2" r="6.3"/><circle cx="1549.9" cy="1310.1" r="6.3"/><circle cx="1558.3" cy="1307" r="6.3"/><circle cx="1566.7" cy="1309.1" r="6.3"/><circle cx="1552" cy="1322.7" r="6.3"/><circle cx="1553.5" cy="1331.5" r="6.3"/><circle cx="1555.2" cy="1313.3" r="6.3"/><circle cx="1563.5" cy="1314.3" r="6.3"/><circle cx="1568.8" cy="1348.3" r="6.3"/><circle cx="1570.5" cy="1359.4" r="6.3"/><circle cx="1574.6" cy="1369.9" r="6.3"/><circle cx="1572.3" cy="1377.2" r="6.3"/><circle cx="1575.1" cy="1335.3" r="6.3"/><circle cx="1576.1" cy="1290.2" r="6.3"/><circle cx="1580.5" cy="1281.8" r="6.3"/><circle cx="1587.4" cy="1286.7" r="6.3"/><circle cx="1579" cy="1312.2" r="6.3"/><circle cx="1588.9" cy="1267.2" r="6.3"/><circle cx="1596.9" cy="1267.6" r="6.3"/><circle cx="1600" cy="1275.6" r="6.3"/><circle cx="1604.8" cy="1280.8" r="6.3"/><circle cx="1601.1" cy="1289.2" r="6.3"/><circle cx="1593.7" cy="1285" r="6.3"/><circle cx="1592.7" cy="1302.8" r="6.3"/><circle cx="1594.3" cy="1321.2" r="6.3"/><circle cx="1605.9" cy="1317.1" r="6.3"/><circle cx="1616.8" cy="1313.3" r="6.3"/><circle cx="1626.2" cy="1308" r="6.3"/><circle cx="1623.7" cy="1318.5" r="6.3"/><circle cx="1629.8" cy="1332.1" r="6.3"/><circle cx="1610.9" cy="1332.1" r="6.3"/><circle cx="1616.8" cy="1338.4" r="6.3"/><circle cx="1609" cy="1345.4" r="6.3"/><circle cx="1623.1" cy="1344.7" r="6.3"/><circle cx="1631.9" cy="1348.9" r="6.3"/><circle cx="1587" cy="1349.3" r="6.3"/><circle cx="1607.3" cy="1370.9" r="6.3"/><circle cx="1620.5" cy="1372.4" r="6.3"/><circle cx="1637.1" cy="1377.8" r="6.3"/><circle cx="1638.8" cy="1397.8" r="6.3"/><circle cx="1633.1" cy="1409.7" r="6.3"/><circle cx="1644" cy="1408.7" r="6.3"/><circle cx="1655.6" cy="1407.2" r="6.3"/><circle cx="1666.7" cy="1409.1" r="6.3"/><circle cx="1647.8" cy="1425.8" r="6.3"/><circle cx="1661.2" cy="1432.8" r="6.3"/><circle cx="1651.4" cy="1453.3" r="6.3"/><circle cx="1657.2" cy="1471.1" r="6.3"/><circle cx="1664.6" cy="1478.4" r="6.3"/><circle cx="1653.5" cy="1242.4" r="6.3"/><circle cx="1670.2" cy="1245.6" r="6.3"/><circle cx="1674" cy="1257.7" r="6.3"/><circle cx="1671.7" cy="1264.4" r="6.3"/><circle cx="1675.5" cy="1268.6" r="6.3"/><circle cx="1649.9" cy="1290.2" r="6.3"/><circle cx="1668.5" cy="1290.9" r="6.3"/><circle cx="1679.7" cy="1285" r="6.3"/><circle cx="1677.6" cy="1295.9" r="6.3"/><circle cx="1662.9" cy="1302.8" r="6.3"/><circle cx="1659.1" cy="1329.6" r="6.3"/><circle cx="1698.9" cy="1280.2" r="6.3"/><circle cx="1696.4" cy="1302.2" r="6.3"/><circle cx="1684.9" cy="1325.9" r="6.3"/><circle cx="1694.3" cy="1329" r="6.3"/><circle cx="1681.1" cy="1334.2" r="6.3"/><circle cx="1687" cy="1361.5" r="6.3"/><circle cx="1712.6" cy="1350.4" r="6.3"/><circle cx="1709" cy="1367.8" r="6.3"/><circle cx="1705.9" cy="1373.6" r="6.3"/><circle cx="1701.7" cy="1380.8" r="6.3"/><circle cx="1692.2" cy="1392.9" r="6.3"/><circle cx="1690.6" cy="1398.6" r="6.3"/><circle cx="1704.8" cy="1394.4" r="6.3"/><circle cx="1714.9" cy="1390.8" r="6.3"/><circle cx="1727.4" cy="1414.3" r="6.3"/><circle cx="1718" cy="1418.1" r="6.3"/><circle cx="1724.1" cy="1425.4" r="6.3"/><circle cx="1715.7" cy="1426" r="6.3"/><circle cx="1703.3" cy="1454.3" r="6.3"/><circle cx="1711.1" cy="1472.2" r="6.3"/><circle cx="1729.3" cy="1249.8" r="6.3"/><circle cx="1733.1" cy="1285" r="6.3"/><circle cx="1760.8" cy="1277.2" r="6.3"/><circle cx="1757.6" cy="1307.6" r="6.3"/><circle cx="1745.7" cy="1317.1" r="6.3"/><circle cx="1742.5" cy="1322.7" r="6.3"/><circle cx="1749.9" cy="1324.8" r="6.3"/><circle cx="1755.7" cy="1322.1" r="6.3"/><circle cx="1768.1" cy="1318.5" r="6.3"/><circle cx="1779.2" cy="1308.5" r="6.3"/><circle cx="1731" cy="1344.3" r="6.3"/><circle cx="1737.3" cy="1350" r="6.3"/><circle cx="1743.6" cy="1346.8" r="6.3"/><circle cx="1751.5" cy="1343.7" r="6.3"/><circle cx="1753" cy="1351.6" r="6.3"/><circle cx="1739" cy="1356.7" r="6.3"/><circle cx="1737.9" cy="1362.5" r="6.3"/><circle cx="1764.5" cy="1347.9" r="6.3"/><circle cx="1762.4" cy="1358.8" r="6.3"/><circle cx="1774" cy="1356.3" r="6.3"/><circle cx="1783.4" cy="1358.3" r="6.3"/><circle cx="1789.3" cy="1354.6" r="6.3"/><circle cx="1771.5" cy="1369.2" r="6.3"/><circle cx="1766.2" cy="1383.5" r="6.3"/><circle cx="1769.8" cy="1334.2" r="6.3"/><circle cx="1777.1" cy="1331.1" r="6.3"/><circle cx="1786.5" cy="1331.1" r="6.3"/><circle cx="1793.9" cy="1336.3" r="6.3"/><circle cx="1780.3" cy="1341.6" r="6.3"/><circle cx="1787.6" cy="1339.5" r="6.3"/><circle cx="1792.2" cy="1290.9" r="6.3"/><circle cx="1797" cy="1301.8" r="6.3"/><circle cx="1806.5" cy="1295.5" r="6.3"/><circle cx="1815.9" cy="1290.9" r="6.3"/><circle cx="1803.3" cy="1266.5" r="6.3"/><circle cx="1807.5" cy="1308" r="6.3"/><circle cx="1799.1" cy="1312.2" r="6.3"/><circle cx="1796" cy="1318.1" r="6.3"/><circle cx="1801.2" cy="1325.9" r="6.3"/><circle cx="1820.1" cy="1305.3" r="6.3"/><circle cx="1827.4" cy="1304.9" r="6.3"/><circle cx="1824.3" cy="1315.4" r="6.3"/><circle cx="1834.8" cy="1320.6" r="6.3"/><circle cx="1822.2" cy="1325.9" r="6.3"/><circle cx="1830.6" cy="1329" r="6.3"/><circle cx="1812.7" cy="1334.7" r="6.3"/><circle cx="1819" cy="1335.3" r="6.3"/><circle cx="1830.6" cy="1336.3" r="6.3"/><circle cx="1810.2" cy="1354.6" r="6.3"/><circle cx="1836.2" cy="1353.1" r="6.3"/><circle cx="1844.2" cy="1358.3" r="6.3"/><circle cx="1849.4" cy="1361.5" r="6.3"/><circle cx="1853.2" cy="1351" r="6.3"/><circle cx="1845.9" cy="1369.9" r="6.3"/><circle cx="1851.5" cy="1376.8" r="6.3"/><circle cx="1838.9" cy="1383.1" r="6.3"/><circle cx="1842.1" cy="1409.3" r="6.3"/><circle cx="1866.2" cy="1270.9" r="6.3"/><circle cx="1862" cy="1303.9" r="6.3"/><circle cx="1870.4" cy="1305.9" r="6.3"/><circle cx="1876.3" cy="1305.9" r="6.3"/><circle cx="1871.9" cy="1314.3" r="6.3"/><circle cx="1856.8" cy="1317.1" r="6.3"/><circle cx="1854.7" cy="1328" r="6.3"/><circle cx="1873.5" cy="1332.6" r="6.3"/><circle cx="1867.7" cy="1343" r="6.3"/><circle cx="720.9" cy="1105.8" r="6.3"/><circle cx="639.4" cy="1144.7" r="6.3"/><circle cx="647.6" cy="1145.7" r="6.3"/><circle cx="661.9" cy="1170.9" r="6.3"/><circle cx="730.5" cy="1157.6" r="6.3"/><circle cx="797.6" cy="1151.5" r="6.3"/><circle cx="806.1" cy="1157.3" r="6.3"/><circle cx="1326.7" cy="1027" r="6.3"/><circle cx="1328.4" cy="1059.8" r="6.3"/><circle cx="1324.7" cy="1117.4" r="6.3"/><circle cx="1323" cy="1135.1" r="6.3"/><circle cx="1251" cy="1132.7" r="6.3"/><circle cx="1258.5" cy="1135.5" r="6.3"/><circle cx="1333.9" cy="1165.1" r="6.3"/><circle cx="578.5" cy="1540" r="6.3"/><circle cx="1057.2" cy="1586" r="6.3"/><circle cx="888.4" cy="1502.8" r="6.3"/><circle cx="896.2" cy="1507.3" r="6.3"/><circle cx="1130.8" cy="1549.2" r="6.3"/><circle cx="1115.6" cy="1640.3" r="6.3"/><circle cx="1645.9" cy="1519.3" r="6.3"/><circle cx="1721.9" cy="1530.8" r="6.3"/><circle cx="1719.8" cy="1549.7" r="6.3"/><circle cx="1725.6" cy="1563.3" r="6.3"/><circle cx="1642.2" cy="1579" r="6.3"/><circle cx="1634.9" cy="1594.2" r="6.3"/>
</g>
<path d="M281.55 1015.0V996.1M281.55 1652.9V1671.8M414.53 1015.0V996.1M414.53 1652.9V1671.8M547.51 1015.0V996.1M547.51 1652.9V1671.8M680.48 1015.0V996.1M680.48 1652.9V1671.8M813.46 1015.0V996.1M813.46 1652.9V1671.8M946.44 1015.0V996.1M946.44 1652.9V1671.8M1079.42 1015.0V996.1M1079.42 1652.9V1671.8M1212.40 1015.0V996.1M1212.40 1652.9V1671.8M1345.37 1015.0V996.1M1345.37 1652.9V1671.8M1478.35 1015.0V996.1M1478.35 1652.9V1671.8M1611.33 1015.0V996.1M1611.33 1652.9V1671.8M1744.31 1015.0V996.1M1744.31 1652.9V1671.8M1877.29 1015.0V996.1M1877.29 1652.9V1671.8" stroke="#000" stroke-width="2.9" fill="none" stroke-linecap="butt"/>
<path d="M325.88 1015.0V1004.95M325.88 1652.9V1662.95M370.20 1015.0V1004.95M370.20 1652.9V1662.95M458.85 1015.0V1004.95M458.85 1652.9V1662.95M503.18 1015.0V1004.95M503.18 1652.9V1662.95M591.83 1015.0V1004.95M591.83 1652.9V1662.95M636.16 1015.0V1004.95M636.16 1652.9V1662.95M724.81 1015.0V1004.95M724.81 1652.9V1662.95M769.14 1015.0V1004.95M769.14 1652.9V1662.95M857.79 1015.0V1004.95M857.79 1652.9V1662.95M902.11 1015.0V1004.95M902.11 1652.9V1662.95M990.77 1015.0V1004.95M990.77 1652.9V1662.95M1035.09 1015.0V1004.95M1035.09 1652.9V1662.95M1123.74 1015.0V1004.95M1123.74 1652.9V1662.95M1168.07 1015.0V1004.95M1168.07 1652.9V1662.95M1256.72 1015.0V1004.95M1256.72 1652.9V1662.95M1301.05 1015.0V1004.95M1301.05 1652.9V1662.95M1389.70 1015.0V1004.95M1389.70 1652.9V1662.95M1434.03 1015.0V1004.95M1434.03 1652.9V1662.95M1522.68 1015.0V1004.95M1522.68 1652.9V1662.95M1567.00 1015.0V1004.95M1567.00 1652.9V1662.95M1655.66 1015.0V1004.95M1655.66 1652.9V1662.95M1699.98 1015.0V1004.95M1699.98 1652.9V1662.95M1788.63 1015.0V1004.95M1788.63 1652.9V1662.95M1832.96 1015.0V1004.95M1832.96 1652.9V1662.95" stroke="#000" stroke-width="2.1" fill="none"/>
<path d="M249.9 1092.50H230.9M1907.3 1092.50H1925.9M249.9 1214.50H230.9M1907.3 1214.50H1925.9M249.9 1336.50H230.9M1907.3 1336.50H1925.9M249.9 1458.50H230.9M1907.3 1458.50H1925.9M249.9 1580.50H230.9M1907.3 1580.50H1925.9" stroke="#000" stroke-width="2.7" fill="none"/>
<rect x="249.9" y="1015.0" width="1657.4" height="637.9" fill="none" stroke="#000" stroke-width="5.8"/>
<text class="b" transform="translate(214.60 1108.90) scale(1.0 1.08)" font-size="42.9" text-anchor="end">40</text>
<text class="b" transform="translate(214.60 1230.90) scale(1.0 1.08)" font-size="42.9" text-anchor="end">20</text>
<text class="b" transform="translate(214.60 1352.90) scale(1.0 1.08)" font-size="42.9" text-anchor="end">0</text>
<text class="b" transform="translate(214.60 1474.90) scale(1.0 1.08)" font-size="42.9" text-anchor="end"><tspan dy="4.2">−</tspan><tspan dy="-4.2">20</tspan></text>
<text class="b" transform="translate(214.60 1596.90) scale(1.0 1.08)" font-size="42.9" text-anchor="end"><tspan dy="4.2">−</tspan><tspan dy="-4.2">40</tspan></text>
<text class="b" transform="translate(281.55 1719.60) scale(1.0 1.08)" font-size="42.9" text-anchor="middle">0</text>
<text class="b" transform="translate(414.53 1719.60) scale(1.0 1.08)" font-size="42.9" text-anchor="middle">6</text>
<text class="b" transform="translate(547.51 1719.60) scale(1.0 1.08)" font-size="42.9" text-anchor="middle">12</text>
<text class="b" transform="translate(680.48 1719.60) scale(1.0 1.08)" font-size="42.9" text-anchor="middle">18</text>
<text class="b" transform="translate(813.46 1719.60) scale(1.0 1.08)" font-size="42.9" text-anchor="middle">24</text>
<text class="b" transform="translate(946.44 1719.60) scale(1.0 1.08)" font-size="42.9" text-anchor="middle">30</text>
<text class="b" transform="translate(1079.42 1719.60) scale(1.0 1.08)" font-size="42.9" text-anchor="middle">36</text>
<text class="b" transform="translate(1212.40 1719.60) scale(1.0 1.08)" font-size="42.9" text-anchor="middle">42</text>
<text class="b" transform="translate(1345.37 1719.60) scale(1.0 1.08)" font-size="42.9" text-anchor="middle">48</text>
<text class="b" transform="translate(1478.35 1719.60) scale(1.0 1.08)" font-size="42.9" text-anchor="middle">54</text>
<text class="b" transform="translate(1611.33 1719.60) scale(1.0 1.08)" font-size="42.9" text-anchor="middle">60</text>
<text class="b" transform="translate(1744.31 1719.60) scale(1.0 1.08)" font-size="42.9" text-anchor="middle">66</text>
<text class="b" transform="translate(1877.29 1719.60) scale(1.0 1.08)" font-size="42.9" text-anchor="middle">72</text>
<text transform="translate(114.00 1333.95) rotate(-90) scale(1.0 1.045)" font-size="42.4" text-anchor="middle">North (mm)</text>
</g>
<g id="panel3">
<g class="d">
<circle cx="281.4" cy="2125.8" r="6.3"/><circle cx="285.2" cy="2100.2" r="6.3"/><circle cx="287.7" cy="2107.6" r="6.3"/><circle cx="291.9" cy="2115.9" r="6.3"/><circle cx="288.8" cy="2122.2" r="6.3"/><circle cx="295.1" cy="2125.4" r="6.3"/><circle cx="300.3" cy="2107.6" r="6.3"/><circle cx="303.4" cy="2101.3" r="6.3"/><circle cx="307.6" cy="2106.5" r="6.3"/><circle cx="299.3" cy="2130.6" r="6.3"/><circle cx="305.5" cy="2133.8" r="6.3"/><circle cx="312.9" cy="2122.2" r="6.3"/><circle cx="310.8" cy="2136.9" r="6.3"/><circle cx="316.7" cy="2144.2" r="6.3"/><circle cx="319.2" cy="2113.8" r="6.3"/><circle cx="324.4" cy="2100.2" r="6.3"/><circle cx="329.6" cy="2101.3" r="6.3"/><circle cx="327.6" cy="2110.7" r="6.3"/><circle cx="333.8" cy="2119.7" r="6.3"/><circle cx="324.4" cy="2122.2" r="6.3"/><circle cx="322.3" cy="2132.7" r="6.3"/><circle cx="316" cy="2128.5" r="6.3"/><circle cx="294.2" cy="2148.4" r="6.3"/><circle cx="311" cy="2163.7" r="6.3"/><circle cx="312.9" cy="2112.8" r="6.3"/><circle cx="347.9" cy="2122.2" r="6.3"/><circle cx="359" cy="2114.3" r="6.3"/><circle cx="372" cy="2125.4" r="6.3"/><circle cx="368.4" cy="2132.1" r="6.3"/><circle cx="353.3" cy="2139" r="6.3"/><circle cx="364.4" cy="2144.9" r="6.3"/><circle cx="339.1" cy="2155.1" r="6.3"/><circle cx="334.9" cy="2158.9" r="6.3"/><circle cx="330.7" cy="2164.1" r="6.3"/><circle cx="335.9" cy="2165.2" r="6.3"/><circle cx="354.8" cy="2161" r="6.3"/><circle cx="348.5" cy="2166.2" r="6.3"/><circle cx="344.3" cy="2172.5" r="6.3"/><circle cx="342.2" cy="2178.8" r="6.3"/><circle cx="349.6" cy="2179.9" r="6.3"/><circle cx="338.7" cy="2188.9" r="6.3"/><circle cx="370.5" cy="2163.1" r="6.3"/><circle cx="365.3" cy="2170.4" r="6.3"/><circle cx="360" cy="2175.7" r="6.3"/><circle cx="362.1" cy="2187.2" r="6.3"/><circle cx="374.7" cy="2185.5" r="6.3"/><circle cx="381" cy="2188.2" r="6.3"/><circle cx="376.8" cy="2214" r="6.3"/><circle cx="379.9" cy="2207.1" r="6.3"/><circle cx="384.8" cy="2200.8" r="6.3"/><circle cx="392.5" cy="2205.6" r="6.3"/><circle cx="386.2" cy="2167.3" r="6.3"/><circle cx="390.4" cy="2174.6" r="6.3"/><circle cx="388.3" cy="2180.9" r="6.3"/><circle cx="393.6" cy="2162" r="6.3"/><circle cx="397.8" cy="2157.9" r="6.3"/><circle cx="405.1" cy="2163.1" r="6.3"/><circle cx="409.7" cy="2162" r="6.3"/><circle cx="406.8" cy="2176.1" r="6.3"/><circle cx="419.8" cy="2100.8" r="6.3"/><circle cx="402" cy="2112.8" r="6.3"/><circle cx="400.9" cy="2117" r="6.3"/><circle cx="411" cy="2111.1" r="6.3"/><circle cx="418.7" cy="2115.3" r="6.3"/><circle cx="416.6" cy="2122.2" r="6.3"/><circle cx="412.4" cy="2132.7" r="6.3"/><circle cx="415.6" cy="2137.9" r="6.3"/><circle cx="421.9" cy="2141.1" r="6.3"/><circle cx="441.8" cy="2144.6" r="6.3"/><circle cx="425" cy="2153.7" r="6.3"/><circle cx="434.4" cy="2152.6" r="6.3"/><circle cx="430.3" cy="2159.9" r="6.3"/><circle cx="439.7" cy="2167.3" r="6.3"/><circle cx="434.4" cy="2172.5" r="6.3"/><circle cx="427.1" cy="2174.6" r="6.3"/><circle cx="429.2" cy="2179.9" r="6.3"/><circle cx="438.2" cy="2184.1" r="6.3"/><circle cx="423.3" cy="2191.4" r="6.3"/><circle cx="449.1" cy="2095" r="6.3"/><circle cx="452.9" cy="2103.4" r="6.3"/><circle cx="455.4" cy="2109.6" r="6.3"/><circle cx="447" cy="2119.1" r="6.3"/><circle cx="443.9" cy="2129.6" r="6.3"/><circle cx="450.2" cy="2132.7" r="6.3"/><circle cx="458.5" cy="2130.2" r="6.3"/><circle cx="456.5" cy="2142.1" r="6.3"/><circle cx="468" cy="2144.2" r="6.3"/><circle cx="477.4" cy="2142.1" r="6.3"/><circle cx="460.6" cy="2154.7" r="6.3"/><circle cx="465.9" cy="2157.9" r="6.3"/><circle cx="469.7" cy="2167.7" r="6.3"/><circle cx="482.2" cy="2153" r="6.3"/><circle cx="472.2" cy="2149.5" r="6.3"/><circle cx="462.5" cy="2184.1" r="6.3"/><circle cx="471.5" cy="2125.4" r="6.3"/><circle cx="475.3" cy="2106.5" r="6.3"/><circle cx="478.9" cy="2117" r="6.3"/><circle cx="487.9" cy="2110.7" r="6.3"/><circle cx="491" cy="2118" r="6.3"/><circle cx="484.7" cy="2132.7" r="6.3"/><circle cx="494.2" cy="2123.3" r="6.3"/><circle cx="498.4" cy="2120.1" r="6.3"/><circle cx="503.6" cy="2128.5" r="6.3"/><circle cx="504.7" cy="2136.9" r="6.3"/><circle cx="500.5" cy="2144.2" r="6.3"/><circle cx="508.9" cy="2146.3" r="6.3"/><circle cx="514.1" cy="2153.7" r="6.3"/><circle cx="506.1" cy="2160.4" r="6.3"/><circle cx="517.9" cy="2165.2" r="6.3"/><circle cx="486.4" cy="2073.6" r="6.3"/><circle cx="499.2" cy="2086.8" r="6.3"/><circle cx="512" cy="2184.5" r="6.3"/><circle cx="521.4" cy="2176.7" r="6.3"/><circle cx="517.2" cy="2186.1" r="6.3"/><circle cx="526.7" cy="2185.1" r="6.3"/><circle cx="535.1" cy="2175" r="6.3"/><circle cx="529.8" cy="2193.5" r="6.3"/><circle cx="519.3" cy="2203.5" r="6.3"/><circle cx="530.9" cy="2202.3" r="6.3"/><circle cx="524.6" cy="2196.6" r="6.3"/><circle cx="554.5" cy="2092.9" r="6.3"/><circle cx="540.3" cy="2116.4" r="6.3"/><circle cx="552.9" cy="2118" r="6.3"/><circle cx="558.5" cy="2114.9" r="6.3"/><circle cx="536.5" cy="2130.6" r="6.3"/><circle cx="544.5" cy="2135.8" r="6.3"/><circle cx="548.7" cy="2133.8" r="6.3"/><circle cx="562.3" cy="2130.6" r="6.3"/><circle cx="570.7" cy="2123.9" r="6.3"/><circle cx="537.8" cy="2148.8" r="6.3"/><circle cx="551" cy="2153.2" r="6.3"/><circle cx="565.4" cy="2146.3" r="6.3"/><circle cx="572.8" cy="2143.2" r="6.3"/><circle cx="568.6" cy="2149.5" r="6.3"/><circle cx="575.9" cy="2162.5" r="6.3"/><circle cx="574.9" cy="2168.3" r="6.3"/><circle cx="580.1" cy="2187.2" r="6.3"/><circle cx="580.7" cy="2197.7" r="6.3"/><circle cx="297.2" cy="2118" r="6.3"/><circle cx="321.3" cy="2105.5" r="6.3"/><circle cx="330.7" cy="2115.9" r="6.3"/><circle cx="319.2" cy="2139" r="6.3"/><circle cx="293" cy="2101.3" r="6.3"/><circle cx="340.1" cy="2159.9" r="6.3"/><circle cx="352.7" cy="2174.6" r="6.3"/><circle cx="356.9" cy="2168.3" r="6.3"/><circle cx="367.4" cy="2176.7" r="6.3"/><circle cx="346.4" cy="2184.1" r="6.3"/><circle cx="461.7" cy="2147.4" r="6.3"/><circle cx="464.8" cy="2164.1" r="6.3"/><circle cx="480.6" cy="2124.3" r="6.3"/><circle cx="493.1" cy="2128.5" r="6.3"/><circle cx="509.9" cy="2139" r="6.3"/><circle cx="510.9" cy="2157.9" r="6.3"/><circle cx="451.2" cy="2139" r="6.3"/><circle cx="543.4" cy="2128.5" r="6.3"/><circle cx="556" cy="2124.3" r="6.3"/><circle cx="564.4" cy="2134.8" r="6.3"/><circle cx="542.4" cy="2141.1" r="6.3"/><circle cx="432.3" cy="2166.2" r="6.3"/><circle cx="428.2" cy="2155.8" r="6.3"/><circle cx="382" cy="2176.7" r="6.3"/><circle cx="394.6" cy="2168.3" r="6.3"/><circle cx="605.1" cy="2047.4" r="6.3"/><circle cx="607.2" cy="2051" r="6.3"/><circle cx="608.6" cy="2064.2" r="6.3"/><circle cx="603" cy="2074.6" r="6.3"/><circle cx="599.2" cy="2079.9" r="6.3"/><circle cx="634" cy="2053.1" r="6.3"/><circle cx="674.6" cy="2043.6" r="6.3"/><circle cx="756" cy="2038.4" r="6.3"/><circle cx="656.4" cy="2068.1" r="6.3"/><circle cx="669.4" cy="2070.2" r="6.3"/><circle cx="689.5" cy="2066.7" r="6.3"/><circle cx="696.9" cy="2073.4" r="6.3"/><circle cx="632.3" cy="2095" r="6.3"/><circle cx="671.1" cy="2096.7" r="6.3"/><circle cx="687.8" cy="2101.3" r="6.3"/><circle cx="694.1" cy="2102.3" r="6.3"/><circle cx="680.5" cy="2110.7" r="6.3"/><circle cx="685.8" cy="2113.4" r="6.3"/><circle cx="652.6" cy="2108.2" r="6.3"/><circle cx="666.5" cy="2116.6" r="6.3"/><circle cx="595.6" cy="2103.4" r="6.3"/><circle cx="601.9" cy="2104.4" r="6.3"/><circle cx="593.5" cy="2110.7" r="6.3"/><circle cx="597.7" cy="2113.8" r="6.3"/><circle cx="612.4" cy="2120.1" r="6.3"/><circle cx="698.7" cy="2131.7" r="6.3"/><circle cx="672.8" cy="2136.5" r="6.3"/><circle cx="691" cy="2146.3" r="6.3"/><circle cx="717.2" cy="2136.5" r="6.3"/><circle cx="629.2" cy="2135.8" r="6.3"/><circle cx="637.5" cy="2132.7" r="6.3"/><circle cx="639.6" cy="2140" r="6.3"/><circle cx="634.4" cy="2144.2" r="6.3"/><circle cx="630.2" cy="2152.2" r="6.3"/><circle cx="647" cy="2158.9" r="6.3"/><circle cx="659.6" cy="2157.9" r="6.3"/><circle cx="644.9" cy="2165.2" r="6.3"/><circle cx="649.1" cy="2169.4" r="6.3"/><circle cx="643.4" cy="2181.5" r="6.3"/><circle cx="654.3" cy="2189.3" r="6.3"/><circle cx="650.1" cy="2192" r="6.3"/><circle cx="682.2" cy="2167.3" r="6.3"/><circle cx="610.3" cy="2184.5" r="6.3"/><circle cx="613.9" cy="2203.3" r="6.3"/><circle cx="641.7" cy="2220.7" r="6.3"/><circle cx="684.1" cy="2231.6" r="6.3"/><circle cx="663.3" cy="2246.9" r="6.3"/><circle cx="661.6" cy="2262.7" r="6.3"/><circle cx="702.3" cy="2267.5" r="6.3"/><circle cx="588.3" cy="2149.5" r="6.3"/><circle cx="591.4" cy="2157.9" r="6.3"/><circle cx="582" cy="2165.2" r="6.3"/><circle cx="585.8" cy="2259.9" r="6.3"/><circle cx="747" cy="2124.7" r="6.3"/><circle cx="750.1" cy="2133.8" r="6.3"/><circle cx="761.8" cy="2132.1" r="6.3"/><circle cx="770.6" cy="2136.3" r="6.3"/><circle cx="778" cy="2145.3" r="6.3"/><circle cx="782.2" cy="2149.9" r="6.3"/><circle cx="754.3" cy="2147.4" r="6.3"/><circle cx="763.3" cy="2156.8" r="6.3"/><circle cx="769" cy="2115.5" r="6.3"/><circle cx="715.1" cy="2164.1" r="6.3"/><circle cx="720.3" cy="2169.4" r="6.3"/><circle cx="726.6" cy="2174.6" r="6.3"/><circle cx="731.9" cy="2177.8" r="6.3"/><circle cx="736.7" cy="2179.2" r="6.3"/><circle cx="706.3" cy="2176.7" r="6.3"/><circle cx="707.8" cy="2186.1" r="6.3"/><circle cx="720.8" cy="2188.2" r="6.3"/><circle cx="703.6" cy="2196.6" r="6.3"/><circle cx="710.9" cy="2195.6" r="6.3"/><circle cx="722.8" cy="2200.2" r="6.3"/><circle cx="700.8" cy="2207.5" r="6.3"/><circle cx="709.9" cy="2215.5" r="6.3"/><circle cx="711.9" cy="2218.6" r="6.3"/><circle cx="737.7" cy="2223.9" r="6.3"/><circle cx="734" cy="2230.2" r="6.3"/><circle cx="726.6" cy="2241.3" r="6.3"/><circle cx="730.4" cy="2253.8" r="6.3"/><circle cx="743.4" cy="2249" r="6.3"/><circle cx="749.3" cy="2246.9" r="6.3"/><circle cx="744.9" cy="2257" r="6.3"/><circle cx="732.3" cy="2286.1" r="6.3"/><circle cx="741.3" cy="2298.7" r="6.3"/><circle cx="787.4" cy="2175.7" r="6.3"/><circle cx="783.6" cy="2186.1" r="6.3"/><circle cx="759.7" cy="2189.3" r="6.3"/><circle cx="751.8" cy="2197" r="6.3"/><circle cx="758.1" cy="2197.7" r="6.3"/><circle cx="767.5" cy="2194.5" r="6.3"/><circle cx="765.4" cy="2200.8" r="6.3"/><circle cx="774.4" cy="2211.9" r="6.3"/><circle cx="775.9" cy="2220.7" r="6.3"/><circle cx="783.2" cy="2221.8" r="6.3"/><circle cx="789.9" cy="2221.4" r="6.3"/><circle cx="785.3" cy="2229.1" r="6.3"/><circle cx="802.1" cy="2227.4" r="6.3"/><circle cx="772.3" cy="2251.8" r="6.3"/><circle cx="791.2" cy="2255.3" r="6.3"/><circle cx="813.2" cy="2160.4" r="6.3"/><circle cx="825.1" cy="2154.7" r="6.3"/><circle cx="830.4" cy="2168.3" r="6.3"/><circle cx="822" cy="2174.6" r="6.3"/><circle cx="844.6" cy="2180.3" r="6.3"/><circle cx="885.3" cy="2174" r="6.3"/><circle cx="815.1" cy="2193.5" r="6.3"/><circle cx="816.7" cy="2198.7" r="6.3"/><circle cx="828.3" cy="2193.5" r="6.3"/><circle cx="832.5" cy="2196.6" r="6.3"/><circle cx="833.5" cy="2208.8" r="6.3"/><circle cx="850.3" cy="2202.9" r="6.3"/><circle cx="818.8" cy="2218.6" r="6.3"/><circle cx="841.9" cy="2252.2" r="6.3"/><circle cx="846.5" cy="2249" r="6.3"/><circle cx="837.7" cy="2262.7" r="6.3"/><circle cx="844" cy="2264.7" r="6.3"/><circle cx="858.7" cy="2266.8" r="6.3"/><circle cx="848.2" cy="2274.2" r="6.3"/><circle cx="854.5" cy="2279.4" r="6.3"/><circle cx="835.6" cy="2280.9" r="6.3"/><circle cx="856.6" cy="2289.9" r="6.3"/><circle cx="851.3" cy="2292.6" r="6.3"/><circle cx="804.2" cy="2269.6" r="6.3"/><circle cx="811.5" cy="2267.9" r="6.3"/><circle cx="807.7" cy="2278.4" r="6.3"/><circle cx="805.8" cy="2293.7" r="6.3"/><circle cx="793.7" cy="2304.6" r="6.3"/><circle cx="796.8" cy="2317.1" r="6.3"/><circle cx="800" cy="2326.6" r="6.3"/><circle cx="809.8" cy="2327" r="6.3"/><circle cx="861.2" cy="2314.4" r="6.3"/><circle cx="878.6" cy="2205" r="6.3"/><circle cx="888" cy="2204.4" r="6.3"/><circle cx="882.8" cy="2213.4" r="6.3"/><circle cx="891.2" cy="2221.8" r="6.3"/><circle cx="894.7" cy="2228.1" r="6.3"/><circle cx="874.4" cy="2241.3" r="6.3"/><circle cx="892.6" cy="2244.2" r="6.3"/><circle cx="875.9" cy="2256.4" r="6.3"/><circle cx="898.5" cy="2261.2" r="6.3"/><circle cx="905.8" cy="2266.2" r="6.3"/><circle cx="896.4" cy="2285.3" r="6.3"/><circle cx="909.4" cy="2283.6" r="6.3"/><circle cx="902.1" cy="2298.3" r="6.3"/><circle cx="900.2" cy="2312.3" r="6.3"/><circle cx="903.7" cy="2324.1" r="6.3"/><circle cx="910" cy="2222.2" r="6.3"/><circle cx="912.1" cy="2243.2" r="6.3"/><circle cx="912.7" cy="2113.8" r="6.3"/><circle cx="916.5" cy="2143.2" r="6.3"/><circle cx="920.3" cy="2221.2" r="6.3"/><circle cx="918.2" cy="2253.8" r="6.3"/><circle cx="927.6" cy="2254.3" r="6.3"/><circle cx="940.8" cy="2252.2" r="6.3"/><circle cx="922.4" cy="2265.8" r="6.3"/><circle cx="924.1" cy="2274.8" r="6.3"/><circle cx="925.5" cy="2284.7" r="6.3"/><circle cx="935" cy="2283.6" r="6.3"/><circle cx="933.3" cy="2288.9" r="6.3"/><circle cx="931.4" cy="2330.1" r="6.3"/><circle cx="929.7" cy="2341.9" r="6.3"/><circle cx="952.8" cy="2056.6" r="6.3"/><circle cx="972.1" cy="2089.7" r="6.3"/><circle cx="950.1" cy="2121.8" r="6.3"/><circle cx="946.5" cy="2182" r="6.3"/><circle cx="944.8" cy="2197.7" r="6.3"/><circle cx="975.8" cy="2204.4" r="6.3"/><circle cx="973.7" cy="2210.3" r="6.3"/><circle cx="948.2" cy="2221.2" r="6.3"/><circle cx="942.3" cy="2227" r="6.3"/><circle cx="936.6" cy="2232.9" r="6.3"/><circle cx="990.5" cy="2114.5" r="6.3"/><circle cx="1029.3" cy="2079.9" r="6.3"/><circle cx="1053.4" cy="2107.6" r="6.3"/><circle cx="1090.1" cy="2047.2" r="6.3"/><circle cx="1112.5" cy="2082.8" r="6.3"/><circle cx="1094.3" cy="2106.5" r="6.3"/><circle cx="1106.8" cy="2118" r="6.3"/><circle cx="1158.6" cy="2031" r="6.3"/><circle cx="1165.9" cy="2064.2" r="6.3"/><circle cx="1155" cy="2070.9" r="6.3"/><circle cx="1223.2" cy="2046.8" r="6.3"/><circle cx="1210.6" cy="2068.4" r="6.3"/><circle cx="1203.2" cy="2069.8" r="6.3"/><circle cx="1204.7" cy="2081.8" r="6.3"/><circle cx="1219.4" cy="2089.1" r="6.3"/><circle cx="1212.7" cy="2095" r="6.3"/><circle cx="1201.1" cy="2101.7" r="6.3"/><circle cx="1214.8" cy="2107.1" r="6.3"/><circle cx="1228.4" cy="2109.6" r="6.3"/><circle cx="1221.1" cy="2117.6" r="6.3"/><circle cx="1227.3" cy="2126" r="6.3"/><circle cx="1215.8" cy="2133.3" r="6.3"/><circle cx="1127.2" cy="2113.8" r="6.3"/><circle cx="1138.3" cy="2112.8" r="6.3"/><circle cx="1149.8" cy="2110.1" r="6.3"/><circle cx="1143.9" cy="2120.8" r="6.3"/><circle cx="1162.4" cy="2136.9" r="6.3"/><circle cx="1164" cy="2144.2" r="6.3"/><circle cx="959.1" cy="2132.1" r="6.3"/><circle cx="966.4" cy="2137.5" r="6.3"/><circle cx="955.3" cy="2154.1" r="6.3"/><circle cx="969.5" cy="2149.5" r="6.3"/><circle cx="968.1" cy="2159.9" r="6.3"/><circle cx="961.2" cy="2156.8" r="6.3"/><circle cx="979.6" cy="2132.7" r="6.3"/><circle cx="986.3" cy="2139" r="6.3"/><circle cx="981.1" cy="2144.2" r="6.3"/><circle cx="976.9" cy="2152.6" r="6.3"/><circle cx="987.4" cy="2154.7" r="6.3"/><circle cx="992.6" cy="2147.4" r="6.3"/><circle cx="997.8" cy="2153.7" r="6.3"/><circle cx="1005.2" cy="2143.2" r="6.3"/><circle cx="1012.5" cy="2134.2" r="6.3"/><circle cx="1016.7" cy="2140" r="6.3"/><circle cx="1023" cy="2142.1" r="6.3"/><circle cx="1024" cy="2130.2" r="6.3"/><circle cx="1009.4" cy="2149.5" r="6.3"/><circle cx="1008.3" cy="2158.9" r="6.3"/><circle cx="1003.1" cy="2164.1" r="6.3"/><circle cx="999.5" cy="2172.5" r="6.3"/><circle cx="1016.3" cy="2115.9" r="6.3"/><circle cx="1025.7" cy="2111.7" r="6.3"/><circle cx="1034.5" cy="2118" r="6.3"/><circle cx="1041.4" cy="2120.1" r="6.3"/><circle cx="1042.9" cy="2127.9" r="6.3"/><circle cx="1035.1" cy="2134.8" r="6.3"/><circle cx="1038.7" cy="2144.2" r="6.3"/><circle cx="1051.3" cy="2146.3" r="6.3"/><circle cx="1043.9" cy="2155.8" r="6.3"/><circle cx="1046" cy="2166.2" r="6.3"/><circle cx="1058.6" cy="2166.2" r="6.3"/><circle cx="1063.9" cy="2151.6" r="6.3"/><circle cx="1070.8" cy="2150.5" r="6.3"/><circle cx="1068.1" cy="2159.9" r="6.3"/><circle cx="1071.2" cy="2166.2" r="6.3"/><circle cx="1020.3" cy="2164.1" r="6.3"/><circle cx="1028.2" cy="2168.3" r="6.3"/><circle cx="1031" cy="2178.2" r="6.3"/><circle cx="1082.7" cy="2155.8" r="6.3"/><circle cx="1091.7" cy="2149.9" r="6.3"/><circle cx="1088" cy="2155.8" r="6.3"/><circle cx="1096.3" cy="2159.9" r="6.3"/><circle cx="1104.7" cy="2165.8" r="6.3"/><circle cx="1078.1" cy="2180.9" r="6.3"/><circle cx="1084.8" cy="2181.5" r="6.3"/><circle cx="1075.4" cy="2189.3" r="6.3"/><circle cx="1077.5" cy="2195.6" r="6.3"/><circle cx="1081" cy="2199.4" r="6.3"/><circle cx="1060.7" cy="2193.5" r="6.3"/><circle cx="1064.5" cy="2205" r="6.3"/><circle cx="1101.6" cy="2193.5" r="6.3"/><circle cx="1108.9" cy="2193.5" r="6.3"/><circle cx="1103.7" cy="2201.9" r="6.3"/><circle cx="1099.5" cy="2208.2" r="6.3"/><circle cx="1121.5" cy="2209.2" r="6.3"/><circle cx="1125.7" cy="2216.5" r="6.3"/><circle cx="1117.9" cy="2222.8" r="6.3"/><circle cx="1057.2" cy="2230.8" r="6.3"/><circle cx="1055.5" cy="2253.6" r="6.3"/><circle cx="1110.6" cy="2249.4" r="6.3"/><circle cx="1120.5" cy="2249.4" r="6.3"/><circle cx="1123.6" cy="2161" r="6.3"/><circle cx="1134.1" cy="2154.7" r="6.3"/><circle cx="1140.4" cy="2148.8" r="6.3"/><circle cx="1143.5" cy="2161" r="6.3"/><circle cx="1147.7" cy="2167.3" r="6.3"/><circle cx="1152.9" cy="2174.6" r="6.3"/><circle cx="1150.8" cy="2181.5" r="6.3"/><circle cx="1133" cy="2173.6" r="6.3"/><circle cx="1128.8" cy="2177.8" r="6.3"/><circle cx="1136.6" cy="2184.5" r="6.3"/><circle cx="1175.4" cy="2169" r="6.3"/><circle cx="1171.8" cy="2181.5" r="6.3"/><circle cx="1173.5" cy="2195.6" r="6.3"/><circle cx="1169.7" cy="2205.4" r="6.3"/><circle cx="1180.6" cy="2210.3" r="6.3"/><circle cx="1178.5" cy="2220.7" r="6.3"/><circle cx="1167.6" cy="2227" r="6.3"/><circle cx="1199.1" cy="2217.2" r="6.3"/><circle cx="1195.9" cy="2222.2" r="6.3"/><circle cx="1188.6" cy="2241.7" r="6.3"/><circle cx="1191.7" cy="2244.4" r="6.3"/><circle cx="1185.4" cy="2250.1" r="6.3"/><circle cx="1190.7" cy="2251.1" r="6.3"/><circle cx="1182.7" cy="2265.4" r="6.3"/><circle cx="1197.4" cy="2266.2" r="6.3"/><circle cx="1193.8" cy="2273.8" r="6.3"/><circle cx="1130.9" cy="2303.1" r="6.3"/><circle cx="1114.4" cy="2315.1" r="6.3"/><circle cx="1232.6" cy="2188.2" r="6.3"/><circle cx="1239.9" cy="2193.5" r="6.3"/><circle cx="1244.1" cy="2206.1" r="6.3"/><circle cx="1230.5" cy="2221.2" r="6.3"/><circle cx="1241" cy="2223.9" r="6.3"/><circle cx="1244.1" cy="2230.2" r="6.3"/><circle cx="1234.3" cy="2238.1" r="6.3"/><circle cx="1238.2" cy="2256.4" r="6.3"/><circle cx="1236.1" cy="2293" r="6.3"/><circle cx="1254.8" cy="2197.7" r="6.3"/><circle cx="1251.2" cy="2211.3" r="6.3"/><circle cx="1249.1" cy="2220.7" r="6.3"/><circle cx="1252.9" cy="2275.2" r="6.3"/><circle cx="1256.9" cy="2282.1" r="6.3"/><circle cx="1263.8" cy="2310.9" r="6.3"/><circle cx="1276.8" cy="2325.1" r="6.3"/><circle cx="1260.3" cy="2345.4" r="6.3"/><circle cx="1328.8" cy="2341.2" r="6.3"/><circle cx="1322.5" cy="2345.4" r="6.3"/><circle cx="1299" cy="2113.4" r="6.3"/><circle cx="1300.9" cy="2119.7" r="6.3"/><circle cx="1295.3" cy="2126" r="6.3"/><circle cx="1286.2" cy="2167.3" r="6.3"/><circle cx="1308.2" cy="2162" r="6.3"/><circle cx="1314.1" cy="2164.1" r="6.3"/><circle cx="1291.7" cy="2180.9" r="6.3"/><circle cx="1294.2" cy="2188.2" r="6.3"/><circle cx="1297.4" cy="2195.6" r="6.3"/><circle cx="1309.9" cy="2186.1" r="6.3"/><circle cx="1317.7" cy="2181.5" r="6.3"/><circle cx="1319.4" cy="2189.7" r="6.3"/><circle cx="1315.2" cy="2195.6" r="6.3"/><circle cx="1311.6" cy="2199.8" r="6.3"/><circle cx="1302.6" cy="2215.5" r="6.3"/><circle cx="1321.5" cy="2213.4" r="6.3"/><circle cx="1282.7" cy="2220.7" r="6.3"/><circle cx="1306.4" cy="2234.4" r="6.3"/><circle cx="1290" cy="2238.1" r="6.3"/><circle cx="1285.8" cy="2246.9" r="6.3"/><circle cx="1280.6" cy="2259.5" r="6.3"/><circle cx="1304.7" cy="2266.4" r="6.3"/><circle cx="1356.5" cy="2147.4" r="6.3"/><circle cx="1352.9" cy="2166.9" r="6.3"/><circle cx="1358.6" cy="2191.8" r="6.3"/><circle cx="1361.9" cy="2217.6" r="6.3"/><circle cx="1378.5" cy="2215.1" r="6.3"/><circle cx="1350.4" cy="2229.1" r="6.3"/><circle cx="1345.6" cy="2239.6" r="6.3"/><circle cx="1347" cy="2246.9" r="6.3"/><circle cx="1355" cy="2249" r="6.3"/><circle cx="1365.5" cy="2234.4" r="6.3"/><circle cx="1363.8" cy="2239.6" r="6.3"/><circle cx="1359.8" cy="2265.4" r="6.3"/><circle cx="1371.3" cy="2264.7" r="6.3"/><circle cx="1369.2" cy="2280.5" r="6.3"/><circle cx="1367.6" cy="2293.7" r="6.3"/><circle cx="1374.5" cy="2145.9" r="6.3"/><circle cx="1382.2" cy="2148" r="6.3"/><circle cx="1393.1" cy="2137.3" r="6.3"/><circle cx="1411.6" cy="2145.9" r="6.3"/><circle cx="1400.7" cy="2154.1" r="6.3"/><circle cx="1380.1" cy="2160.4" r="6.3"/><circle cx="1372.8" cy="2174.2" r="6.3"/><circle cx="1391.7" cy="2171.9" r="6.3"/><circle cx="1404.2" cy="2165.2" r="6.3"/><circle cx="1406.3" cy="2174.6" r="6.3"/><circle cx="1376.4" cy="2187.6" r="6.3"/><circle cx="1385.4" cy="2185.1" r="6.3"/><circle cx="1392.7" cy="2184.1" r="6.3"/><circle cx="1399" cy="2186.1" r="6.3"/><circle cx="1411.6" cy="2180.9" r="6.3"/><circle cx="1420" cy="2180.9" r="6.3"/><circle cx="1416.8" cy="2187.2" r="6.3"/><circle cx="1422.1" cy="2191.4" r="6.3"/><circle cx="1431.5" cy="2194.5" r="6.3"/><circle cx="1434.6" cy="2197" r="6.3"/><circle cx="1408.4" cy="2199.8" r="6.3"/><circle cx="1402.1" cy="2204" r="6.3"/><circle cx="1394.8" cy="2202.9" r="6.3"/><circle cx="1426.3" cy="2207.1" r="6.3"/><circle cx="1427.9" cy="2166.9" r="6.3"/><circle cx="1441.3" cy="2158.5" r="6.3"/><circle cx="1447.2" cy="2162" r="6.3"/><circle cx="1444.7" cy="2170.4" r="6.3"/><circle cx="1452.5" cy="2192.9" r="6.3"/><circle cx="1448.7" cy="2200.2" r="6.3"/><circle cx="1443" cy="2212.3" r="6.3"/><circle cx="1436.7" cy="2219.7" r="6.3"/><circle cx="1440.9" cy="2220.7" r="6.3"/><circle cx="1455.6" cy="2212.3" r="6.3"/><circle cx="1453.5" cy="2221.4" r="6.3"/><circle cx="1470.9" cy="2199.8" r="6.3"/><circle cx="1472.4" cy="2207.7" r="6.3"/><circle cx="1467.1" cy="2224.9" r="6.3"/><circle cx="1474.5" cy="2234.8" r="6.3"/><circle cx="1463.6" cy="2246.9" r="6.3"/><circle cx="1461.9" cy="2257.4" r="6.3"/><circle cx="1465.7" cy="2262" r="6.3"/><circle cx="1459.8" cy="2284.7" r="6.3"/><circle cx="1458.1" cy="2308.8" r="6.3"/><circle cx="1468.8" cy="2324.5" r="6.3"/><circle cx="1485.6" cy="2033.8" r="6.3"/><circle cx="1480.1" cy="2045.1" r="6.3"/><circle cx="1483.9" cy="2073" r="6.3"/><circle cx="1478.2" cy="2090.4" r="6.3"/><circle cx="1539" cy="2037.8" r="6.3"/><circle cx="1509.7" cy="2106.1" r="6.3"/><circle cx="1513.9" cy="2110.7" r="6.3"/><circle cx="1511.8" cy="2121.6" r="6.3"/><circle cx="1505.9" cy="2131.2" r="6.3"/><circle cx="1515.3" cy="2129.6" r="6.3"/><circle cx="1476.6" cy="2144.9" r="6.3"/><circle cx="1495.4" cy="2144.2" r="6.3"/><circle cx="1491.2" cy="2151.6" r="6.3"/><circle cx="1500.7" cy="2153.7" r="6.3"/><circle cx="1487.5" cy="2159.9" r="6.3"/><circle cx="1502.8" cy="2164.1" r="6.3"/><circle cx="1489.1" cy="2172.5" r="6.3"/><circle cx="1506.9" cy="2173.6" r="6.3"/><circle cx="1498.6" cy="2178.8" r="6.3"/><circle cx="1492.7" cy="2182.4" r="6.3"/><circle cx="1520.6" cy="2150.9" r="6.3"/><circle cx="1525.8" cy="2155.8" r="6.3"/><circle cx="1523.1" cy="2161" r="6.3"/><circle cx="1531.1" cy="2161.4" r="6.3"/><circle cx="1527.9" cy="2173.6" r="6.3"/><circle cx="1537.3" cy="2173.6" r="6.3"/><circle cx="1518.5" cy="2179.4" r="6.3"/><circle cx="1533.1" cy="2177.8" r="6.3"/><circle cx="1517" cy="2199.8" r="6.3"/><circle cx="1535.2" cy="2210.3" r="6.3"/><circle cx="1543.2" cy="2142.1" r="6.3"/><circle cx="1548.9" cy="2144.2" r="6.3"/><circle cx="1555.8" cy="2146.3" r="6.3"/><circle cx="1545.7" cy="2149.5" r="6.3"/><circle cx="1572.3" cy="2150.9" r="6.3"/><circle cx="1549.9" cy="2176.7" r="6.3"/><circle cx="1555.2" cy="2177.8" r="6.3"/><circle cx="1540.9" cy="2189.3" r="6.3"/><circle cx="1552" cy="2186.1" r="6.3"/><circle cx="1570.9" cy="2177.8" r="6.3"/><circle cx="1567.7" cy="2185.1" r="6.3"/><circle cx="1574" cy="2180.9" r="6.3"/><circle cx="1563.5" cy="2197.7" r="6.3"/><circle cx="1568.8" cy="2205" r="6.3"/><circle cx="1558.3" cy="2213.4" r="6.3"/><circle cx="1561.4" cy="2222.8" r="6.3"/><circle cx="1576.1" cy="2191.4" r="6.3"/><circle cx="1583.2" cy="2186.1" r="6.3"/><circle cx="1588.5" cy="2178.8" r="6.3"/><circle cx="1579.7" cy="2205" r="6.3"/><circle cx="1579.7" cy="2212.8" r="6.3"/><circle cx="1591" cy="2198.7" r="6.3"/><circle cx="1585.8" cy="2228.7" r="6.3"/><circle cx="1593.7" cy="2166.2" r="6.3"/><circle cx="1597.9" cy="2180.9" r="6.3"/><circle cx="1596.4" cy="2153.7" r="6.3"/><circle cx="1602.1" cy="2150.5" r="6.3"/><circle cx="1604.2" cy="2140.5" r="6.3"/><circle cx="1610.5" cy="2168.3" r="6.3"/><circle cx="1608.4" cy="2175.7" r="6.3"/><circle cx="1613.6" cy="2173.6" r="6.3"/><circle cx="1620.5" cy="2127" r="6.3"/><circle cx="1618.9" cy="2145.3" r="6.3"/><circle cx="1624.1" cy="2151.6" r="6.3"/><circle cx="1629.4" cy="2139.4" r="6.3"/><circle cx="1637.7" cy="2140.5" r="6.3"/><circle cx="1645.1" cy="2145.3" r="6.3"/><circle cx="1638.8" cy="2151.6" r="6.3"/><circle cx="1629.4" cy="2157.9" r="6.3"/><circle cx="1625.2" cy="2166.2" r="6.3"/><circle cx="1628.3" cy="2168.3" r="6.3"/><circle cx="1640.5" cy="2163.5" r="6.3"/><circle cx="1615.3" cy="2192.4" r="6.3"/><circle cx="1616.8" cy="2204.4" r="6.3"/><circle cx="1635" cy="2202.9" r="6.3"/><circle cx="1633.5" cy="2215.5" r="6.3"/><circle cx="1648.2" cy="2186.8" r="6.3"/><circle cx="1664.6" cy="2191" r="6.3"/><circle cx="1646.1" cy="2224.9" r="6.3"/><circle cx="1650.3" cy="2230.2" r="6.3"/><circle cx="1658.7" cy="2232.9" r="6.3"/><circle cx="1661.8" cy="2232.3" r="6.3"/><circle cx="1655.6" cy="2263.3" r="6.3"/><circle cx="1666.7" cy="2272.1" r="6.3"/><circle cx="1679.7" cy="2275.6" r="6.3"/><circle cx="1671.7" cy="2282.6" r="6.3"/><circle cx="1678.2" cy="2289.9" r="6.3"/><circle cx="1673.4" cy="2294.1" r="6.3"/><circle cx="1651.8" cy="2293.7" r="6.3"/><circle cx="1653.5" cy="2301.4" r="6.3"/><circle cx="1657.6" cy="2303.5" r="6.3"/><circle cx="1668.8" cy="2303.9" r="6.3"/><circle cx="1662.9" cy="2319.9" r="6.3"/><circle cx="1642.3" cy="2336" r="6.3"/><circle cx="1675.9" cy="2339.8" r="6.3"/><circle cx="1670.2" cy="2345.4" r="6.3"/><circle cx="1684.9" cy="2077.2" r="6.3"/><circle cx="1692.9" cy="2077.2" r="6.3"/><circle cx="1681.1" cy="2088.7" r="6.3"/><circle cx="1687" cy="2096" r="6.3"/><circle cx="1683" cy="2126.8" r="6.3"/><circle cx="1698.1" cy="2152.2" r="6.3"/><circle cx="1703.3" cy="2162" r="6.3"/><circle cx="1709.4" cy="2173.2" r="6.3"/><circle cx="1699.6" cy="2179.9" r="6.3"/><circle cx="1695.4" cy="2185.1" r="6.3"/><circle cx="1693.3" cy="2191.8" r="6.3"/><circle cx="1701.7" cy="2197" r="6.3"/><circle cx="1707.3" cy="2219.3" r="6.3"/><circle cx="1705.2" cy="2229.7" r="6.3"/><circle cx="1711.1" cy="2244.8" r="6.3"/><circle cx="1716.5" cy="2257.4" r="6.3"/><circle cx="1712.1" cy="2268.9" r="6.3"/><circle cx="1715.3" cy="2271.5" r="6.3"/><circle cx="1718" cy="2309.2" r="6.3"/><circle cx="1729.3" cy="2173.6" r="6.3"/><circle cx="1740.4" cy="2043" r="6.3"/><circle cx="1736.9" cy="2057.2" r="6.3"/><circle cx="1744.6" cy="2064.6" r="6.3"/><circle cx="1739" cy="2073" r="6.3"/><circle cx="1731" cy="2081.8" r="6.3"/><circle cx="1744.2" cy="2088.1" r="6.3"/><circle cx="1755.7" cy="2070.2" r="6.3"/><circle cx="1757.8" cy="2083" r="6.3"/><circle cx="1720.5" cy="2097.1" r="6.3"/><circle cx="1724.7" cy="2104.4" r="6.3"/><circle cx="1728.5" cy="2108" r="6.3"/><circle cx="1722" cy="2124.9" r="6.3"/><circle cx="1723.2" cy="2139" r="6.3"/><circle cx="1734.1" cy="2137.5" r="6.3"/><circle cx="1753" cy="2106.1" r="6.3"/><circle cx="1762.9" cy="2104.8" r="6.3"/><circle cx="1767.7" cy="2113.8" r="6.3"/><circle cx="1748.8" cy="2118" r="6.3"/><circle cx="1756.2" cy="2116.4" r="6.3"/><circle cx="1765.6" cy="2119.1" r="6.3"/><circle cx="1770.8" cy="2131.7" r="6.3"/><circle cx="1775" cy="2136.9" r="6.3"/><circle cx="1764.1" cy="2142.6" r="6.3"/><circle cx="1771.9" cy="2142.1" r="6.3"/><circle cx="1788.6" cy="2151.6" r="6.3"/><circle cx="1782.4" cy="2159.3" r="6.3"/><circle cx="1779.2" cy="2162" r="6.3"/><circle cx="1793.9" cy="2169.8" r="6.3"/><circle cx="1790.7" cy="2172.5" r="6.3"/><circle cx="1786.5" cy="2179.9" r="6.3"/><circle cx="1799.5" cy="2182.4" r="6.3"/><circle cx="1777.1" cy="2186.1" r="6.3"/><circle cx="1793.9" cy="2191.4" r="6.3"/><circle cx="1790.3" cy="2209.2" r="6.3"/><circle cx="1808.6" cy="2110.3" r="6.3"/><circle cx="1801.2" cy="2118" r="6.3"/><circle cx="1807.1" cy="2128.1" r="6.3"/><circle cx="1815.9" cy="2132.7" r="6.3"/><circle cx="1797.7" cy="2140.5" r="6.3"/><circle cx="1804.4" cy="2146.3" r="6.3"/><circle cx="1811.7" cy="2144.2" r="6.3"/><circle cx="1829.5" cy="2113.8" r="6.3"/><circle cx="1835.4" cy="2127.9" r="6.3"/><circle cx="1833.7" cy="2132.7" r="6.3"/><circle cx="1837.9" cy="2133.8" r="6.3"/><circle cx="1834.8" cy="2139" r="6.3"/><circle cx="1819" cy="2157.9" r="6.3"/><circle cx="1825.3" cy="2155.8" r="6.3"/><circle cx="1830.6" cy="2152.6" r="6.3"/><circle cx="1826.4" cy="2164.1" r="6.3"/><circle cx="1820.1" cy="2170.4" r="6.3"/><circle cx="1814.8" cy="2179.9" r="6.3"/><circle cx="1821.1" cy="2180.3" r="6.3"/><circle cx="1841" cy="2153.7" r="6.3"/><circle cx="1837.9" cy="2158.9" r="6.3"/><circle cx="1847.3" cy="2155.8" r="6.3"/><circle cx="1848.4" cy="2163.1" r="6.3"/><circle cx="1845.7" cy="2169.4" r="6.3"/><circle cx="1843.8" cy="2181.5" r="6.3"/><circle cx="1851.5" cy="2129.1" r="6.3"/><circle cx="1854.7" cy="2136.9" r="6.3"/><circle cx="1856.8" cy="2146.3" r="6.3"/><circle cx="1861" cy="2148.4" r="6.3"/><circle cx="1856.8" cy="2153.7" r="6.3"/><circle cx="1862.6" cy="2131.7" r="6.3"/><circle cx="1858.9" cy="2118" r="6.3"/><circle cx="1868.3" cy="2118" r="6.3"/><circle cx="1870" cy="2121.6" r="6.3"/><circle cx="1864.3" cy="2101.3" r="6.3"/><circle cx="1873.5" cy="2135.8" r="6.3"/><circle cx="1875.6" cy="2149.5" r="6.3"/><circle cx="1871.4" cy="2156.8" r="6.3"/><circle cx="1866.2" cy="2161" r="6.3"/><circle cx="615.6" cy="1843.5" r="6.3"/><circle cx="625" cy="1846.9" r="6.3"/><circle cx="621.4" cy="1875.6" r="6.3"/><circle cx="623.3" cy="1887.4" r="6.3"/><circle cx="626.8" cy="1921" r="6.3"/><circle cx="676.7" cy="1977.2" r="6.3"/><circle cx="678.8" cy="1979.7" r="6.3"/><circle cx="695.4" cy="1992.2" r="6.3"/><circle cx="617.6" cy="2001.8" r="6.3"/><circle cx="619.4" cy="2008.8" r="6.3"/><circle cx="960.5" cy="1958.4" r="6.3"/><circle cx="962.6" cy="1996.6" r="6.3"/><circle cx="1160.2" cy="1934.3" r="6.3"/><circle cx="1206.3" cy="1973.6" r="6.3"/><circle cx="1209.4" cy="1972" r="6.3"/><circle cx="1481.9" cy="1978.3" r="6.3"/><circle cx="1690.4" cy="1972" r="6.3"/><circle cx="1688.4" cy="2000.8" r="6.3"/><circle cx="739.7" cy="2350.6" r="6.3"/><circle cx="798.3" cy="2369" r="6.3"/><circle cx="870.2" cy="2349.2" r="6.3"/><circle cx="879.8" cy="2356" r="6.3"/><circle cx="872.3" cy="2364.2" r="6.3"/><circle cx="865.1" cy="2388.4" r="6.3"/><circle cx="866.1" cy="2404.8" r="6.3"/><circle cx="869.5" cy="2403.1" r="6.3"/><circle cx="863.4" cy="2427.6" r="6.3"/><circle cx="907.4" cy="2399.3" r="6.3"/><circle cx="1116" cy="2377.5" r="6.3"/><circle cx="1267.7" cy="2353" r="6.3"/><circle cx="1275.6" cy="2350.2" r="6.3"/><circle cx="1262.3" cy="2359.4" r="6.3"/><circle cx="1271.5" cy="2372.4" r="6.3"/><circle cx="1279.3" cy="2371.4" r="6.3"/><circle cx="1258.2" cy="2379.2" r="6.3"/><circle cx="1265.7" cy="2418.4" r="6.3"/><circle cx="1273.5" cy="2418.1" r="6.3"/><circle cx="1333.9" cy="2387.4" r="6.3"/><circle cx="1326" cy="2394.5" r="6.3"/><circle cx="1330.5" cy="2405.5" r="6.3"/><circle cx="1341.4" cy="2414.7" r="6.3"/><circle cx="1337.6" cy="2428.3" r="6.3"/><circle cx="1343.4" cy="2434.4" r="6.3"/><circle cx="1339.3" cy="2439.9" r="6.3"/><circle cx="1332.2" cy="2447.4" r="6.3"/><circle cx="1335.9" cy="2456.6" r="6.3"/>
</g>
<path d="M281.55 1830.9V1812.0M281.55 2468.9V2487.8M414.53 1830.9V1812.0M414.53 2468.9V2487.8M547.51 1830.9V1812.0M547.51 2468.9V2487.8M680.48 1830.9V1812.0M680.48 2468.9V2487.8M813.46 1830.9V1812.0M813.46 2468.9V2487.8M946.44 1830.9V1812.0M946.44 2468.9V2487.8M1079.42 1830.9V1812.0M1079.42 2468.9V2487.8M1212.40 1830.9V1812.0M1212.40 2468.9V2487.8M1345.37 1830.9V1812.0M1345.37 2468.9V2487.8M1478.35 1830.9V1812.0M1478.35 2468.9V2487.8M1611.33 1830.9V1812.0M1611.33 2468.9V2487.8M1744.31 1830.9V1812.0M1744.31 2468.9V2487.8M1877.29 1830.9V1812.0M1877.29 2468.9V2487.8" stroke="#000" stroke-width="2.9" fill="none" stroke-linecap="butt"/>
<path d="M325.88 1830.9V1820.85M325.88 2468.9V2478.95M370.20 1830.9V1820.85M370.20 2468.9V2478.95M458.85 1830.9V1820.85M458.85 2468.9V2478.95M503.18 1830.9V1820.85M503.18 2468.9V2478.95M591.83 1830.9V1820.85M591.83 2468.9V2478.95M636.16 1830.9V1820.85M636.16 2468.9V2478.95M724.81 1830.9V1820.85M724.81 2468.9V2478.95M769.14 1830.9V1820.85M769.14 2468.9V2478.95M857.79 1830.9V1820.85M857.79 2468.9V2478.95M902.11 1830.9V1820.85M902.11 2468.9V2478.95M990.77 1830.9V1820.85M990.77 2468.9V2478.95M1035.09 1830.9V1820.85M1035.09 2468.9V2478.95M1123.74 1830.9V1820.85M1123.74 2468.9V2478.95M1168.07 1830.9V1820.85M1168.07 2468.9V2478.95M1256.72 1830.9V1820.85M1256.72 2468.9V2478.95M1301.05 1830.9V1820.85M1301.05 2468.9V2478.95M1389.70 1830.9V1820.85M1389.70 2468.9V2478.95M1434.03 1830.9V1820.85M1434.03 2468.9V2478.95M1522.68 1830.9V1820.85M1522.68 2468.9V2478.95M1567.00 1830.9V1820.85M1567.00 2468.9V2478.95M1655.66 1830.9V1820.85M1655.66 2468.9V2478.95M1699.98 1830.9V1820.85M1699.98 2468.9V2478.95M1788.63 1830.9V1820.85M1788.63 2468.9V2478.95M1832.96 1830.9V1820.85M1832.96 2468.9V2478.95" stroke="#000" stroke-width="2.1" fill="none"/>
<path d="M249.9 1869.90H230.9M1907.3 1869.90H1925.9M249.9 1997.65H230.9M1907.3 1997.65H1925.9M249.9 2125.40H230.9M1907.3 2125.40H1925.9M249.9 2253.15H230.9M1907.3 2253.15H1925.9M249.9 2380.90H230.9M1907.3 2380.90H1925.9" stroke="#000" stroke-width="2.7" fill="none"/>
<rect x="249.9" y="1830.9" width="1657.4" height="638.0" fill="none" stroke="#000" stroke-width="5.8"/>
<text class="b" transform="translate(214.60 1886.30) scale(1.0 1.08)" font-size="42.9" text-anchor="end">100</text>
<text class="b" transform="translate(214.60 2014.05) scale(1.0 1.08)" font-size="42.9" text-anchor="end">50</text>
<text class="b" transform="translate(214.60 2141.80) scale(1.0 1.08)" font-size="42.9" text-anchor="end">0</text>
<text class="b" transform="translate(214.60 2269.55) scale(1.0 1.08)" font-size="42.9" text-anchor="end"><tspan dy="4.2">−</tspan><tspan dy="-4.2">50</tspan></text>
<text class="b" transform="translate(214.60 2397.30) scale(1.0 1.08)" font-size="42.9" text-anchor="end"><tspan dy="4.2">−</tspan><tspan dy="-4.2">100</tspan></text>
<text class="b" transform="translate(281.55 2535.60) scale(1.0 1.08)" font-size="42.9" text-anchor="middle">0</text>
<text class="b" transform="translate(414.53 2535.60) scale(1.0 1.08)" font-size="42.9" text-anchor="middle">6</text>
<text class="b" transform="translate(547.51 2535.60) scale(1.0 1.08)" font-size="42.9" text-anchor="middle">12</text>
<text class="b" transform="translate(680.48 2535.60) scale(1.0 1.08)" font-size="42.9" text-anchor="middle">18</text>
<text class="b" transform="translate(813.46 2535.60) scale(1.0 1.08)" font-size="42.9" text-anchor="middle">24</text>
<text class="b" transform="translate(946.44 2535.60) scale(1.0 1.08)" font-size="42.9" text-anchor="middle">30</text>
<text class="b" transform="translate(1079.42 2535.60) scale(1.0 1.08)" font-size="42.9" text-anchor="middle">36</text>
<text class="b" transform="translate(1212.40 2535.60) scale(1.0 1.08)" font-size="42.9" text-anchor="middle">42</text>
<text class="b" transform="translate(1345.37 2535.60) scale(1.0 1.08)" font-size="42.9" text-anchor="middle">48</text>
<text class="b" transform="translate(1478.35 2535.60) scale(1.0 1.08)" font-size="42.9" text-anchor="middle">54</text>
<text class="b" transform="translate(1611.33 2535.60) scale(1.0 1.08)" font-size="42.9" text-anchor="middle">60</text>
<text class="b" transform="translate(1744.31 2535.60) scale(1.0 1.08)" font-size="42.9" text-anchor="middle">66</text>
<text class="b" transform="translate(1877.29 2535.60) scale(1.0 1.08)" font-size="42.9" text-anchor="middle">72</text>
<text transform="translate(90.00 2149.90) rotate(-90) scale(1.0 1.045)" font-size="42.4" text-anchor="middle">Up (mm)</text>
</g>
<text transform="translate(1078.85 2594.00) scale(1.0 1.045)" font-size="42.6" text-anchor="middle">Time (hours since beginning of first day UTC)</text>
<rect x="249.8" y="2698.3" width="1657.4" height="152.8" fill="none" stroke="#000" stroke-width="5.6"/>
<text class="b" transform="translate(1079.50 2736.70) scale(1.0 1.045)" font-size="42.65" text-anchor="middle">Processed Using JPL Rapid Orbits</text>
<text class="b" transform="translate(1078.40 2777.05) scale(1.0 1.045)" font-size="42.65" text-anchor="middle">by the Nevada Geodetic Laboratory.</text>
<text class="b" transform="translate(1078.60 2817.40) scale(1.0 1.045)" font-size="42.65" text-anchor="middle">Plotted on 2026-Jan-11.</text>
</svg></body></html>
